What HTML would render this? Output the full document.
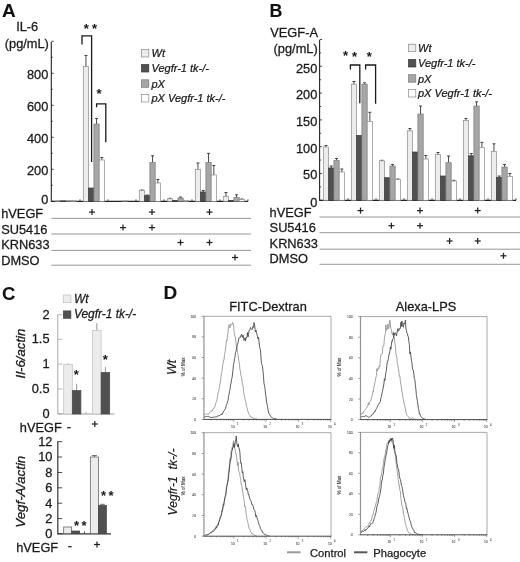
<!DOCTYPE html>
<html><head><meta charset="utf-8"><title>Figure</title>
<style>html,body{margin:0;padding:0;background:#fff;}svg{display:block;font-family:"Liberation Sans",sans-serif;}</style>
</head><body>
<svg width="520" height="562" viewBox="0 0 520 562">
<rect width="520" height="562" fill="#ffffff"/>
<text x="2" y="17" font-size="19" text-anchor="start" fill="#111" stroke="#111" stroke-width="0.08" font-weight="bold">A</text>
<text x="27.2" y="30.8" font-size="12.8" text-anchor="middle" fill="#1a1a1a" stroke="#1a1a1a" stroke-width="0.28">IL-6</text>
<text x="4.8" y="47.8" font-size="12.8" text-anchor="start" fill="#1a1a1a" stroke="#1a1a1a" stroke-width="0.28">(pg/mL)</text>
<text x="48.3" y="78.5" font-size="12.8" text-anchor="end" fill="#1a1a1a" stroke="#1a1a1a" stroke-width="0.28">800</text>
<text x="48.3" y="110.5" font-size="12.8" text-anchor="end" fill="#1a1a1a" stroke="#1a1a1a" stroke-width="0.28">600</text>
<text x="48.3" y="142.5" font-size="12.8" text-anchor="end" fill="#1a1a1a" stroke="#1a1a1a" stroke-width="0.28">400</text>
<text x="48.3" y="174.5" font-size="12.8" text-anchor="end" fill="#1a1a1a" stroke="#1a1a1a" stroke-width="0.28">200</text>
<text x="48.3" y="203.7" font-size="12.8" text-anchor="end" fill="#1a1a1a" stroke="#1a1a1a" stroke-width="0.28">0</text>
<line x1="51.3" y1="42" x2="51.3" y2="201.8" stroke="#222" stroke-width="1.1"/>
<line x1="51.3" y1="201.3" x2="248" y2="201.3" stroke="#222" stroke-width="1.3"/>
<line x1="51.3" y1="201.3" x2="53.8" y2="201.3" stroke="#222" stroke-width="0.8"/>
<line x1="51.3" y1="185.3" x2="52.8" y2="185.3" stroke="#222" stroke-width="0.8"/>
<line x1="51.3" y1="169.3" x2="53.8" y2="169.3" stroke="#222" stroke-width="0.8"/>
<line x1="51.3" y1="153.3" x2="52.8" y2="153.3" stroke="#222" stroke-width="0.8"/>
<line x1="51.3" y1="137.3" x2="53.8" y2="137.3" stroke="#222" stroke-width="0.8"/>
<line x1="51.3" y1="121.30000000000001" x2="52.8" y2="121.30000000000001" stroke="#222" stroke-width="0.8"/>
<line x1="51.3" y1="105.30000000000001" x2="53.8" y2="105.30000000000001" stroke="#222" stroke-width="0.8"/>
<line x1="51.3" y1="89.30000000000001" x2="52.8" y2="89.30000000000001" stroke="#222" stroke-width="0.8"/>
<line x1="51.3" y1="73.30000000000001" x2="53.8" y2="73.30000000000001" stroke="#222" stroke-width="0.8"/>
<line x1="51.3" y1="57.30000000000001" x2="52.8" y2="57.30000000000001" stroke="#222" stroke-width="0.8"/>
<line x1="51.3" y1="41.30000000000001" x2="53.8" y2="41.30000000000001" stroke="#222" stroke-width="0.8"/>
<line x1="80" y1="201.3" x2="80" y2="199.3" stroke="#222" stroke-width="0.8"/>
<line x1="108" y1="201.3" x2="108" y2="199.3" stroke="#222" stroke-width="0.8"/>
<line x1="136" y1="201.3" x2="136" y2="199.3" stroke="#222" stroke-width="0.8"/>
<line x1="164" y1="201.3" x2="164" y2="199.3" stroke="#222" stroke-width="0.8"/>
<line x1="192" y1="201.3" x2="192" y2="199.3" stroke="#222" stroke-width="0.8"/>
<line x1="220" y1="201.3" x2="220" y2="199.3" stroke="#222" stroke-width="0.8"/>
<line x1="248" y1="201.3" x2="248" y2="199.3" stroke="#222" stroke-width="0.8"/>
<rect x="55.30" y="200.70" width="5.30" height="0.60" fill="#ececec" stroke="#8a8a8a" stroke-width="0.7"/>
<rect x="60.60" y="200.90" width="5.30" height="0.40" fill="#505050" stroke="#3a3a3a" stroke-width="0.7"/>
<rect x="65.90" y="200.90" width="5.30" height="0.40" fill="#a6a6a6" stroke="#7a7a7a" stroke-width="0.7"/>
<rect x="71.20" y="200.70" width="5.30" height="0.60" fill="#fdfdfd" stroke="#8a8a8a" stroke-width="0.7"/>
<line x1="85.95" y1="66.5" x2="85.95" y2="55.5" stroke="#333" stroke-width="0.9"/>
<line x1="84.45" y1="55.5" x2="87.45" y2="55.5" stroke="#333" stroke-width="0.9"/>
<rect x="83.30" y="66.50" width="5.30" height="134.80" fill="#ececec" stroke="#8a8a8a" stroke-width="0.7"/>
<rect x="88.60" y="188.00" width="5.30" height="13.30" fill="#505050" stroke="#3a3a3a" stroke-width="0.7"/>
<line x1="96.55" y1="124" x2="96.55" y2="118.5" stroke="#333" stroke-width="0.9"/>
<line x1="95.05" y1="118.5" x2="98.05" y2="118.5" stroke="#333" stroke-width="0.9"/>
<rect x="93.90" y="124.00" width="5.30" height="77.30" fill="#a6a6a6" stroke="#7a7a7a" stroke-width="0.7"/>
<line x1="101.85" y1="160" x2="101.85" y2="157.5" stroke="#333" stroke-width="0.9"/>
<line x1="100.35" y1="157.5" x2="103.35" y2="157.5" stroke="#333" stroke-width="0.9"/>
<rect x="99.20" y="160.00" width="5.30" height="41.30" fill="#fdfdfd" stroke="#8a8a8a" stroke-width="0.7"/>
<rect x="121.90" y="201.00" width="5.30" height="0.30" fill="#a6a6a6" stroke="#7a7a7a" stroke-width="0.7"/>
<line x1="141.95000000000002" y1="190.5" x2="141.95000000000002" y2="190" stroke="#333" stroke-width="0.9"/>
<line x1="140.45000000000002" y1="190" x2="143.45000000000002" y2="190" stroke="#333" stroke-width="0.9"/>
<rect x="139.30" y="190.50" width="5.30" height="10.80" fill="#ececec" stroke="#8a8a8a" stroke-width="0.7"/>
<line x1="147.25000000000003" y1="195.7" x2="147.25000000000003" y2="195" stroke="#333" stroke-width="0.9"/>
<line x1="145.75000000000003" y1="195" x2="148.75000000000003" y2="195" stroke="#333" stroke-width="0.9"/>
<rect x="144.60" y="195.70" width="5.30" height="5.60" fill="#505050" stroke="#3a3a3a" stroke-width="0.7"/>
<line x1="152.55" y1="162.5" x2="152.55" y2="155.8" stroke="#333" stroke-width="0.9"/>
<line x1="151.05" y1="155.8" x2="154.05" y2="155.8" stroke="#333" stroke-width="0.9"/>
<rect x="149.90" y="162.50" width="5.30" height="38.80" fill="#a6a6a6" stroke="#7a7a7a" stroke-width="0.7"/>
<line x1="157.85000000000002" y1="183" x2="157.85000000000002" y2="179.5" stroke="#333" stroke-width="0.9"/>
<line x1="156.35000000000002" y1="179.5" x2="159.35000000000002" y2="179.5" stroke="#333" stroke-width="0.9"/>
<rect x="155.20" y="183.00" width="5.30" height="18.30" fill="#fdfdfd" stroke="#8a8a8a" stroke-width="0.7"/>
<line x1="169.95000000000002" y1="198.8" x2="169.95000000000002" y2="198.3" stroke="#333" stroke-width="0.9"/>
<line x1="168.45000000000002" y1="198.3" x2="171.45000000000002" y2="198.3" stroke="#333" stroke-width="0.9"/>
<rect x="167.30" y="198.80" width="5.30" height="2.50" fill="#ececec" stroke="#8a8a8a" stroke-width="0.7"/>
<rect x="172.60" y="200.60" width="5.30" height="0.70" fill="#505050" stroke="#3a3a3a" stroke-width="0.7"/>
<line x1="180.55" y1="198" x2="180.55" y2="197" stroke="#333" stroke-width="0.9"/>
<line x1="179.05" y1="197" x2="182.05" y2="197" stroke="#333" stroke-width="0.9"/>
<rect x="177.90" y="198.00" width="5.30" height="3.30" fill="#a6a6a6" stroke="#7a7a7a" stroke-width="0.7"/>
<rect x="183.20" y="200.30" width="5.30" height="1.00" fill="#fdfdfd" stroke="#8a8a8a" stroke-width="0.7"/>
<line x1="197.95000000000002" y1="169.5" x2="197.95000000000002" y2="163" stroke="#333" stroke-width="0.9"/>
<line x1="196.45000000000002" y1="163" x2="199.45000000000002" y2="163" stroke="#333" stroke-width="0.9"/>
<rect x="195.30" y="169.50" width="5.30" height="31.80" fill="#ececec" stroke="#8a8a8a" stroke-width="0.7"/>
<line x1="203.25000000000003" y1="192" x2="203.25000000000003" y2="190.5" stroke="#333" stroke-width="0.9"/>
<line x1="201.75000000000003" y1="190.5" x2="204.75000000000003" y2="190.5" stroke="#333" stroke-width="0.9"/>
<rect x="200.60" y="192.00" width="5.30" height="9.30" fill="#505050" stroke="#3a3a3a" stroke-width="0.7"/>
<line x1="208.55" y1="162.5" x2="208.55" y2="153.3" stroke="#333" stroke-width="0.9"/>
<line x1="207.05" y1="153.3" x2="210.05" y2="153.3" stroke="#333" stroke-width="0.9"/>
<rect x="205.90" y="162.50" width="5.30" height="38.80" fill="#a6a6a6" stroke="#7a7a7a" stroke-width="0.7"/>
<line x1="213.85000000000002" y1="175" x2="213.85000000000002" y2="165.5" stroke="#333" stroke-width="0.9"/>
<line x1="212.35000000000002" y1="165.5" x2="215.35000000000002" y2="165.5" stroke="#333" stroke-width="0.9"/>
<rect x="211.20" y="175.00" width="5.30" height="26.30" fill="#fdfdfd" stroke="#8a8a8a" stroke-width="0.7"/>
<line x1="225.95000000000002" y1="196.3" x2="225.95000000000002" y2="192.5" stroke="#333" stroke-width="0.9"/>
<line x1="224.45000000000002" y1="192.5" x2="227.45000000000002" y2="192.5" stroke="#333" stroke-width="0.9"/>
<rect x="223.30" y="196.30" width="5.30" height="5.00" fill="#ececec" stroke="#8a8a8a" stroke-width="0.7"/>
<rect x="228.60" y="200.60" width="5.30" height="0.70" fill="#505050" stroke="#3a3a3a" stroke-width="0.7"/>
<line x1="236.55" y1="197.5" x2="236.55" y2="194.8" stroke="#333" stroke-width="0.9"/>
<line x1="235.05" y1="194.8" x2="238.05" y2="194.8" stroke="#333" stroke-width="0.9"/>
<rect x="233.90" y="197.50" width="5.30" height="3.80" fill="#a6a6a6" stroke="#7a7a7a" stroke-width="0.7"/>
<line x1="241.85000000000002" y1="199.5" x2="241.85000000000002" y2="199" stroke="#333" stroke-width="0.9"/>
<line x1="240.35000000000002" y1="199" x2="243.35000000000002" y2="199" stroke="#333" stroke-width="0.9"/>
<rect x="239.20" y="199.50" width="5.30" height="1.80" fill="#fdfdfd" stroke="#8a8a8a" stroke-width="0.7"/>
<path d="M82 44.5 V35.9 H91.6 V162" fill="none" stroke="#1a1a1a" stroke-width="1.3"/>
<path d="M96.6 107.2 V103.8 H105.8 V142.3" fill="none" stroke="#1a1a1a" stroke-width="1.3"/>
<text x="86.2" y="33.4" font-size="13" text-anchor="middle" fill="#1a1a1a" stroke="#1a1a1a" stroke-width="0.07" font-weight="bold">*</text>
<text x="94.5" y="33.4" font-size="13" text-anchor="middle" fill="#1a1a1a" stroke="#1a1a1a" stroke-width="0.07" font-weight="bold">*</text>
<text x="99" y="98.3" font-size="13" text-anchor="middle" fill="#1a1a1a" stroke="#1a1a1a" stroke-width="0.07" font-weight="bold">*</text>
<rect x="141.50" y="49.50" width="7.30" height="7.50" fill="#ececec" stroke="#8a8a8a" stroke-width="0.7"/>
<text x="151.5" y="57.3" font-size="11" text-anchor="start" fill="#1a1a1a" stroke="#1a1a1a" stroke-width="0.24" font-style="italic">Wt</text>
<rect x="141.50" y="64.50" width="7.30" height="7.50" fill="#505050" stroke="#3a3a3a" stroke-width="0.7"/>
<text x="151.5" y="72.3" font-size="11" text-anchor="start" fill="#1a1a1a" stroke="#1a1a1a" stroke-width="0.24" font-style="italic">Vegfr-1 tk-/-</text>
<rect x="141.50" y="79.80" width="7.30" height="7.50" fill="#a6a6a6" stroke="#7a7a7a" stroke-width="0.7"/>
<text x="151.5" y="87.6" font-size="11" text-anchor="start" fill="#1a1a1a" stroke="#1a1a1a" stroke-width="0.24" font-style="italic">pX</text>
<rect x="141.50" y="94.50" width="7.30" height="7.50" fill="#fdfdfd" stroke="#8a8a8a" stroke-width="0.7"/>
<text x="151.5" y="102.3" font-size="11" text-anchor="start" fill="#1a1a1a" stroke="#1a1a1a" stroke-width="0.24" font-style="italic">pX Vegfr-1 tk-/-</text>
<text x="1.2" y="218.4" font-size="12.8" text-anchor="start" fill="#1a1a1a" stroke="#1a1a1a" stroke-width="0.28">hVEGF</text>
<line x1="51.5" y1="218.4" x2="251" y2="218.4" stroke="#8a8a8a" stroke-width="0.9"/>
<text x="1.2" y="233.6" font-size="12.8" text-anchor="start" fill="#1a1a1a" stroke="#1a1a1a" stroke-width="0.28">SU5416</text>
<line x1="51.5" y1="234" x2="251" y2="234" stroke="#8a8a8a" stroke-width="0.9"/>
<text x="1.2" y="248.7" font-size="12.8" text-anchor="start" fill="#1a1a1a" stroke="#1a1a1a" stroke-width="0.28">KRN633</text>
<line x1="51.5" y1="250.4" x2="251" y2="250.4" stroke="#8a8a8a" stroke-width="0.9"/>
<text x="1.2" y="264.8" font-size="12.8" text-anchor="start" fill="#1a1a1a" stroke="#1a1a1a" stroke-width="0.28">DMSO</text>
<line x1="51.5" y1="265.2" x2="251" y2="265.2" stroke="#8a8a8a" stroke-width="0.9"/>
<line x1="89" y1="212.1" x2="95" y2="212.1" stroke="#222" stroke-width="1.25"/>
<line x1="92" y1="209.1" x2="92" y2="215.1" stroke="#222" stroke-width="1.25"/>
<line x1="149" y1="212.1" x2="155" y2="212.1" stroke="#222" stroke-width="1.25"/>
<line x1="152" y1="209.1" x2="152" y2="215.1" stroke="#222" stroke-width="1.25"/>
<line x1="206.5" y1="212.1" x2="212.5" y2="212.1" stroke="#222" stroke-width="1.25"/>
<line x1="209.5" y1="209.1" x2="209.5" y2="215.1" stroke="#222" stroke-width="1.25"/>
<line x1="120" y1="227.6" x2="126" y2="227.6" stroke="#222" stroke-width="1.25"/>
<line x1="123" y1="224.6" x2="123" y2="230.6" stroke="#222" stroke-width="1.25"/>
<line x1="149" y1="227.6" x2="155" y2="227.6" stroke="#222" stroke-width="1.25"/>
<line x1="152" y1="224.6" x2="152" y2="230.6" stroke="#222" stroke-width="1.25"/>
<line x1="177.5" y1="242.5" x2="183.5" y2="242.5" stroke="#222" stroke-width="1.25"/>
<line x1="180.5" y1="239.5" x2="180.5" y2="245.5" stroke="#222" stroke-width="1.25"/>
<line x1="206.5" y1="242.5" x2="212.5" y2="242.5" stroke="#222" stroke-width="1.25"/>
<line x1="209.5" y1="239.5" x2="209.5" y2="245.5" stroke="#222" stroke-width="1.25"/>
<line x1="232" y1="257.5" x2="238" y2="257.5" stroke="#222" stroke-width="1.25"/>
<line x1="235" y1="254.5" x2="235" y2="260.5" stroke="#222" stroke-width="1.25"/>
<text x="269.6" y="17" font-size="19" text-anchor="start" fill="#111" stroke="#111" stroke-width="0.08" font-weight="bold" textLength="12.9" lengthAdjust="spacingAndGlyphs">B</text>
<text x="270.3" y="37.2" font-size="12.8" text-anchor="start" fill="#1a1a1a" stroke="#1a1a1a" stroke-width="0.28">VEGF-A</text>
<text x="273.6" y="52.6" font-size="12.8" text-anchor="start" fill="#1a1a1a" stroke="#1a1a1a" stroke-width="0.28">(pg/mL)</text>
<text x="317.3" y="72.6" font-size="12.8" text-anchor="end" fill="#1a1a1a" stroke="#1a1a1a" stroke-width="0.28">250</text>
<text x="317.3" y="99.4" font-size="12.8" text-anchor="end" fill="#1a1a1a" stroke="#1a1a1a" stroke-width="0.28">200</text>
<text x="317.3" y="126.2" font-size="12.8" text-anchor="end" fill="#1a1a1a" stroke="#1a1a1a" stroke-width="0.28">150</text>
<text x="317.3" y="152.5" font-size="12.8" text-anchor="end" fill="#1a1a1a" stroke="#1a1a1a" stroke-width="0.28">100</text>
<text x="317.3" y="179.3" font-size="12.8" text-anchor="end" fill="#1a1a1a" stroke="#1a1a1a" stroke-width="0.28">50</text>
<text x="317.3" y="206.8" font-size="12.8" text-anchor="end" fill="#1a1a1a" stroke="#1a1a1a" stroke-width="0.28">0</text>
<line x1="319.6" y1="40" x2="319.6" y2="200.8" stroke="#222" stroke-width="1.1"/>
<line x1="319.6" y1="200.3" x2="516" y2="200.3" stroke="#222" stroke-width="1.3"/>
<line x1="319.6" y1="200.3" x2="322.1" y2="200.3" stroke="#222" stroke-width="0.8"/>
<line x1="319.6" y1="186.9" x2="321.1" y2="186.9" stroke="#222" stroke-width="0.8"/>
<line x1="319.6" y1="173.5" x2="322.1" y2="173.5" stroke="#222" stroke-width="0.8"/>
<line x1="319.6" y1="160.10000000000002" x2="321.1" y2="160.10000000000002" stroke="#222" stroke-width="0.8"/>
<line x1="319.6" y1="146.70000000000002" x2="322.1" y2="146.70000000000002" stroke="#222" stroke-width="0.8"/>
<line x1="319.6" y1="133.3" x2="321.1" y2="133.3" stroke="#222" stroke-width="0.8"/>
<line x1="319.6" y1="119.9" x2="322.1" y2="119.9" stroke="#222" stroke-width="0.8"/>
<line x1="319.6" y1="106.50000000000001" x2="321.1" y2="106.50000000000001" stroke="#222" stroke-width="0.8"/>
<line x1="319.6" y1="93.10000000000001" x2="322.1" y2="93.10000000000001" stroke="#222" stroke-width="0.8"/>
<line x1="319.6" y1="79.7" x2="321.1" y2="79.7" stroke="#222" stroke-width="0.8"/>
<line x1="319.6" y1="66.30000000000001" x2="322.1" y2="66.30000000000001" stroke="#222" stroke-width="0.8"/>
<line x1="319.6" y1="52.900000000000006" x2="321.1" y2="52.900000000000006" stroke="#222" stroke-width="0.8"/>
<line x1="319.6" y1="39.5" x2="322.1" y2="39.5" stroke="#222" stroke-width="0.8"/>
<line x1="348" y1="200.3" x2="348" y2="198.3" stroke="#222" stroke-width="0.8"/>
<line x1="376" y1="200.3" x2="376" y2="198.3" stroke="#222" stroke-width="0.8"/>
<line x1="404" y1="200.3" x2="404" y2="198.3" stroke="#222" stroke-width="0.8"/>
<line x1="432" y1="200.3" x2="432" y2="198.3" stroke="#222" stroke-width="0.8"/>
<line x1="460" y1="200.3" x2="460" y2="198.3" stroke="#222" stroke-width="0.8"/>
<line x1="488" y1="200.3" x2="488" y2="198.3" stroke="#222" stroke-width="0.8"/>
<line x1="516" y1="200.3" x2="516" y2="198.3" stroke="#222" stroke-width="0.8"/>
<line x1="325.95" y1="147" x2="325.95" y2="145.5" stroke="#333" stroke-width="0.9"/>
<line x1="324.45" y1="145.5" x2="327.45" y2="145.5" stroke="#333" stroke-width="0.9"/>
<rect x="323.30" y="147.00" width="5.30" height="53.30" fill="#ececec" stroke="#8a8a8a" stroke-width="0.7"/>
<line x1="331.25" y1="168" x2="331.25" y2="166" stroke="#333" stroke-width="0.9"/>
<line x1="329.75" y1="166" x2="332.75" y2="166" stroke="#333" stroke-width="0.9"/>
<rect x="328.60" y="168.00" width="5.30" height="32.30" fill="#505050" stroke="#3a3a3a" stroke-width="0.7"/>
<line x1="336.55" y1="160.5" x2="336.55" y2="158.5" stroke="#333" stroke-width="0.9"/>
<line x1="335.05" y1="158.5" x2="338.05" y2="158.5" stroke="#333" stroke-width="0.9"/>
<rect x="333.90" y="160.50" width="5.30" height="39.80" fill="#a6a6a6" stroke="#7a7a7a" stroke-width="0.7"/>
<line x1="341.84999999999997" y1="172" x2="341.84999999999997" y2="169" stroke="#333" stroke-width="0.9"/>
<line x1="340.34999999999997" y1="169" x2="343.34999999999997" y2="169" stroke="#333" stroke-width="0.9"/>
<rect x="339.20" y="172.00" width="5.30" height="28.30" fill="#fdfdfd" stroke="#8a8a8a" stroke-width="0.7"/>
<line x1="353.95" y1="84.2" x2="353.95" y2="81.5" stroke="#333" stroke-width="0.9"/>
<line x1="352.45" y1="81.5" x2="355.45" y2="81.5" stroke="#333" stroke-width="0.9"/>
<rect x="351.30" y="84.20" width="5.30" height="116.10" fill="#ececec" stroke="#8a8a8a" stroke-width="0.7"/>
<rect x="356.60" y="135.40" width="5.30" height="64.90" fill="#505050" stroke="#3a3a3a" stroke-width="0.7"/>
<line x1="364.55" y1="84.2" x2="364.55" y2="82.8" stroke="#333" stroke-width="0.9"/>
<line x1="363.05" y1="82.8" x2="366.05" y2="82.8" stroke="#333" stroke-width="0.9"/>
<rect x="361.90" y="84.20" width="5.30" height="116.10" fill="#a6a6a6" stroke="#7a7a7a" stroke-width="0.7"/>
<line x1="369.84999999999997" y1="121.5" x2="369.84999999999997" y2="112.3" stroke="#333" stroke-width="0.9"/>
<line x1="368.34999999999997" y1="112.3" x2="371.34999999999997" y2="112.3" stroke="#333" stroke-width="0.9"/>
<rect x="367.20" y="121.50" width="5.30" height="78.80" fill="#fdfdfd" stroke="#8a8a8a" stroke-width="0.7"/>
<line x1="381.95" y1="160.8" x2="381.95" y2="160.3" stroke="#333" stroke-width="0.9"/>
<line x1="380.45" y1="160.3" x2="383.45" y2="160.3" stroke="#333" stroke-width="0.9"/>
<rect x="379.30" y="160.80" width="5.30" height="39.50" fill="#ececec" stroke="#8a8a8a" stroke-width="0.7"/>
<rect x="384.60" y="177.70" width="5.30" height="22.60" fill="#505050" stroke="#3a3a3a" stroke-width="0.7"/>
<line x1="392.55" y1="166" x2="392.55" y2="164.5" stroke="#333" stroke-width="0.9"/>
<line x1="391.05" y1="164.5" x2="394.05" y2="164.5" stroke="#333" stroke-width="0.9"/>
<rect x="389.90" y="166.00" width="5.30" height="34.30" fill="#a6a6a6" stroke="#7a7a7a" stroke-width="0.7"/>
<line x1="397.84999999999997" y1="179.6" x2="397.84999999999997" y2="179" stroke="#333" stroke-width="0.9"/>
<line x1="396.34999999999997" y1="179" x2="399.34999999999997" y2="179" stroke="#333" stroke-width="0.9"/>
<rect x="395.20" y="179.60" width="5.30" height="20.70" fill="#fdfdfd" stroke="#8a8a8a" stroke-width="0.7"/>
<line x1="409.95" y1="130.8" x2="409.95" y2="128.5" stroke="#333" stroke-width="0.9"/>
<line x1="408.45" y1="128.5" x2="411.45" y2="128.5" stroke="#333" stroke-width="0.9"/>
<rect x="407.30" y="130.80" width="5.30" height="69.50" fill="#ececec" stroke="#8a8a8a" stroke-width="0.7"/>
<rect x="412.60" y="152.00" width="5.30" height="48.30" fill="#505050" stroke="#3a3a3a" stroke-width="0.7"/>
<line x1="420.55" y1="114" x2="420.55" y2="106" stroke="#333" stroke-width="0.9"/>
<line x1="419.05" y1="106" x2="422.05" y2="106" stroke="#333" stroke-width="0.9"/>
<rect x="417.90" y="114.00" width="5.30" height="86.30" fill="#a6a6a6" stroke="#7a7a7a" stroke-width="0.7"/>
<line x1="425.84999999999997" y1="159" x2="425.84999999999997" y2="155.5" stroke="#333" stroke-width="0.9"/>
<line x1="424.34999999999997" y1="155.5" x2="427.34999999999997" y2="155.5" stroke="#333" stroke-width="0.9"/>
<rect x="423.20" y="159.00" width="5.30" height="41.30" fill="#fdfdfd" stroke="#8a8a8a" stroke-width="0.7"/>
<line x1="437.95" y1="154.6" x2="437.95" y2="152.5" stroke="#333" stroke-width="0.9"/>
<line x1="436.45" y1="152.5" x2="439.45" y2="152.5" stroke="#333" stroke-width="0.9"/>
<rect x="435.30" y="154.60" width="5.30" height="45.70" fill="#ececec" stroke="#8a8a8a" stroke-width="0.7"/>
<rect x="440.60" y="176.00" width="5.30" height="24.30" fill="#505050" stroke="#3a3a3a" stroke-width="0.7"/>
<line x1="448.55" y1="162.7" x2="448.55" y2="156" stroke="#333" stroke-width="0.9"/>
<line x1="447.05" y1="156" x2="450.05" y2="156" stroke="#333" stroke-width="0.9"/>
<rect x="445.90" y="162.70" width="5.30" height="37.60" fill="#a6a6a6" stroke="#7a7a7a" stroke-width="0.7"/>
<line x1="453.84999999999997" y1="181" x2="453.84999999999997" y2="180.3" stroke="#333" stroke-width="0.9"/>
<line x1="452.34999999999997" y1="180.3" x2="455.34999999999997" y2="180.3" stroke="#333" stroke-width="0.9"/>
<rect x="451.20" y="181.00" width="5.30" height="19.30" fill="#fdfdfd" stroke="#8a8a8a" stroke-width="0.7"/>
<line x1="465.95" y1="120.4" x2="465.95" y2="118.5" stroke="#333" stroke-width="0.9"/>
<line x1="464.45" y1="118.5" x2="467.45" y2="118.5" stroke="#333" stroke-width="0.9"/>
<rect x="463.30" y="120.40" width="5.30" height="79.90" fill="#ececec" stroke="#8a8a8a" stroke-width="0.7"/>
<line x1="471.25" y1="155.8" x2="471.25" y2="153.5" stroke="#333" stroke-width="0.9"/>
<line x1="469.75" y1="153.5" x2="472.75" y2="153.5" stroke="#333" stroke-width="0.9"/>
<rect x="468.60" y="155.80" width="5.30" height="44.50" fill="#505050" stroke="#3a3a3a" stroke-width="0.7"/>
<line x1="476.55" y1="106" x2="476.55" y2="101.8" stroke="#333" stroke-width="0.9"/>
<line x1="475.05" y1="101.8" x2="478.05" y2="101.8" stroke="#333" stroke-width="0.9"/>
<rect x="473.90" y="106.00" width="5.30" height="94.30" fill="#a6a6a6" stroke="#7a7a7a" stroke-width="0.7"/>
<line x1="481.84999999999997" y1="147.7" x2="481.84999999999997" y2="142.3" stroke="#333" stroke-width="0.9"/>
<line x1="480.34999999999997" y1="142.3" x2="483.34999999999997" y2="142.3" stroke="#333" stroke-width="0.9"/>
<rect x="479.20" y="147.70" width="5.30" height="52.60" fill="#fdfdfd" stroke="#8a8a8a" stroke-width="0.7"/>
<line x1="493.95" y1="151.5" x2="493.95" y2="143.8" stroke="#333" stroke-width="0.9"/>
<line x1="492.45" y1="143.8" x2="495.45" y2="143.8" stroke="#333" stroke-width="0.9"/>
<rect x="491.30" y="151.50" width="5.30" height="48.80" fill="#ececec" stroke="#8a8a8a" stroke-width="0.7"/>
<line x1="499.25" y1="177.3" x2="499.25" y2="176" stroke="#333" stroke-width="0.9"/>
<line x1="497.75" y1="176" x2="500.75" y2="176" stroke="#333" stroke-width="0.9"/>
<rect x="496.60" y="177.30" width="5.30" height="23.00" fill="#505050" stroke="#3a3a3a" stroke-width="0.7"/>
<line x1="504.55" y1="167" x2="504.55" y2="164.5" stroke="#333" stroke-width="0.9"/>
<line x1="503.05" y1="164.5" x2="506.05" y2="164.5" stroke="#333" stroke-width="0.9"/>
<rect x="501.90" y="167.00" width="5.30" height="33.30" fill="#a6a6a6" stroke="#7a7a7a" stroke-width="0.7"/>
<line x1="509.84999999999997" y1="176.5" x2="509.84999999999997" y2="173.5" stroke="#333" stroke-width="0.9"/>
<line x1="508.34999999999997" y1="173.5" x2="511.34999999999997" y2="173.5" stroke="#333" stroke-width="0.9"/>
<rect x="507.20" y="176.50" width="5.30" height="23.80" fill="#fdfdfd" stroke="#8a8a8a" stroke-width="0.7"/>
<path d="M350.4 69.5 V65 H359.8 V103.3" fill="none" stroke="#1a1a1a" stroke-width="1.3"/>
<path d="M365.6 69.5 V65 H375.6 V103.8" fill="none" stroke="#1a1a1a" stroke-width="1.3"/>
<text x="345.5" y="60.4" font-size="13" text-anchor="middle" fill="#1a1a1a" stroke="#1a1a1a" stroke-width="0.07" font-weight="bold">*</text>
<text x="354.5" y="61.4" font-size="13" text-anchor="middle" fill="#1a1a1a" stroke="#1a1a1a" stroke-width="0.07" font-weight="bold">*</text>
<text x="369.4" y="61.2" font-size="13" text-anchor="middle" fill="#1a1a1a" stroke="#1a1a1a" stroke-width="0.07" font-weight="bold">*</text>
<rect x="408.50" y="44.20" width="7.30" height="7.50" fill="#ececec" stroke="#8a8a8a" stroke-width="0.7"/>
<text x="418" y="52.0" font-size="11" text-anchor="start" fill="#1a1a1a" stroke="#1a1a1a" stroke-width="0.24" font-style="italic">Wt</text>
<rect x="408.50" y="59.50" width="7.30" height="7.50" fill="#505050" stroke="#3a3a3a" stroke-width="0.7"/>
<text x="418" y="67.3" font-size="11" text-anchor="start" fill="#1a1a1a" stroke="#1a1a1a" stroke-width="0.24" font-style="italic">Vegfr-1 tk-/-</text>
<rect x="408.50" y="74.70" width="7.30" height="7.50" fill="#a6a6a6" stroke="#7a7a7a" stroke-width="0.7"/>
<text x="418" y="82.5" font-size="11" text-anchor="start" fill="#1a1a1a" stroke="#1a1a1a" stroke-width="0.24" font-style="italic">pX</text>
<rect x="408.50" y="89.50" width="7.30" height="7.50" fill="#fdfdfd" stroke="#8a8a8a" stroke-width="0.7"/>
<text x="418" y="97.3" font-size="11" text-anchor="start" fill="#1a1a1a" stroke="#1a1a1a" stroke-width="0.24" font-style="italic">pX Vegfr-1 tk-/-</text>
<text x="269.6" y="217.2" font-size="12.8" text-anchor="start" fill="#1a1a1a" stroke="#1a1a1a" stroke-width="0.28">hVEGF</text>
<line x1="319.5" y1="217" x2="520" y2="217" stroke="#8a8a8a" stroke-width="0.9"/>
<text x="269.6" y="232.4" font-size="12.8" text-anchor="start" fill="#1a1a1a" stroke="#1a1a1a" stroke-width="0.28">SU5416</text>
<line x1="319.5" y1="232.7" x2="520" y2="232.7" stroke="#8a8a8a" stroke-width="0.9"/>
<text x="269.6" y="247.8" font-size="12.8" text-anchor="start" fill="#1a1a1a" stroke="#1a1a1a" stroke-width="0.28">KRN633</text>
<line x1="319.5" y1="249.2" x2="520" y2="249.2" stroke="#8a8a8a" stroke-width="0.9"/>
<text x="269.6" y="263" font-size="12.8" text-anchor="start" fill="#1a1a1a" stroke="#1a1a1a" stroke-width="0.28">DMSO</text>
<line x1="319.5" y1="264.3" x2="520" y2="264.3" stroke="#8a8a8a" stroke-width="0.9"/>
<line x1="357.5" y1="210.6" x2="363.5" y2="210.6" stroke="#222" stroke-width="1.25"/>
<line x1="360.5" y1="207.6" x2="360.5" y2="213.6" stroke="#222" stroke-width="1.25"/>
<line x1="417" y1="210.6" x2="423" y2="210.6" stroke="#222" stroke-width="1.25"/>
<line x1="420" y1="207.6" x2="420" y2="213.6" stroke="#222" stroke-width="1.25"/>
<line x1="474.7" y1="210.6" x2="480.7" y2="210.6" stroke="#222" stroke-width="1.25"/>
<line x1="477.7" y1="207.6" x2="477.7" y2="213.6" stroke="#222" stroke-width="1.25"/>
<line x1="388.4" y1="225.7" x2="394.4" y2="225.7" stroke="#222" stroke-width="1.25"/>
<line x1="391.4" y1="222.7" x2="391.4" y2="228.7" stroke="#222" stroke-width="1.25"/>
<line x1="417" y1="225.7" x2="423" y2="225.7" stroke="#222" stroke-width="1.25"/>
<line x1="420" y1="222.7" x2="420" y2="228.7" stroke="#222" stroke-width="1.25"/>
<line x1="446.6" y1="241" x2="452.6" y2="241" stroke="#222" stroke-width="1.25"/>
<line x1="449.6" y1="238" x2="449.6" y2="244" stroke="#222" stroke-width="1.25"/>
<line x1="474.7" y1="241" x2="480.7" y2="241" stroke="#222" stroke-width="1.25"/>
<line x1="477.7" y1="238" x2="477.7" y2="244" stroke="#222" stroke-width="1.25"/>
<line x1="500.5" y1="255.8" x2="506.5" y2="255.8" stroke="#222" stroke-width="1.25"/>
<line x1="503.5" y1="252.8" x2="503.5" y2="258.8" stroke="#222" stroke-width="1.25"/>
<text x="2" y="299.5" font-size="18.5" text-anchor="start" fill="#111" stroke="#111" stroke-width="0.07" font-weight="bold">C</text>
<rect x="63.30" y="295.00" width="7.60" height="7.60" fill="#ececec" stroke="#c4c4c4" stroke-width="0.8"/>
<text x="74" y="303" font-size="11.9" text-anchor="start" fill="#1a1a1a" stroke="#1a1a1a" stroke-width="0.26" font-style="italic">Wt</text>
<rect x="63.30" y="310.90" width="7.60" height="7.40" fill="#505050" stroke="#3a3a3a" stroke-width="0.6"/>
<text x="74" y="318" font-size="11.9" text-anchor="start" fill="#1a1a1a" stroke="#1a1a1a" stroke-width="0.26" font-style="italic">Vegfr-1 tk-/-</text>
<text x="49.5" y="318.7" font-size="12.8" text-anchor="end" fill="#1a1a1a" stroke="#1a1a1a" stroke-width="0.28">2</text>
<line x1="57.8" y1="314.7" x2="62.4" y2="314.7" stroke="#a5a5a5" stroke-width="0.8"/>
<text x="49.5" y="343.3" font-size="12.8" text-anchor="end" fill="#1a1a1a" stroke="#1a1a1a" stroke-width="0.28">1.5</text>
<line x1="57.8" y1="339.3" x2="62.4" y2="339.3" stroke="#a5a5a5" stroke-width="0.8"/>
<text x="49.5" y="368.1" font-size="12.8" text-anchor="end" fill="#1a1a1a" stroke="#1a1a1a" stroke-width="0.28">1</text>
<line x1="57.8" y1="364.1" x2="62.4" y2="364.1" stroke="#a5a5a5" stroke-width="0.8"/>
<text x="49.5" y="393.0" font-size="12.8" text-anchor="end" fill="#1a1a1a" stroke="#1a1a1a" stroke-width="0.28">0.5</text>
<line x1="57.8" y1="389" x2="62.4" y2="389" stroke="#a5a5a5" stroke-width="0.8"/>
<text x="49.5" y="417.7" font-size="12.8" text-anchor="end" fill="#1a1a1a" stroke="#1a1a1a" stroke-width="0.28">0</text>
<line x1="57.8" y1="413.7" x2="62.4" y2="413.7" stroke="#a5a5a5" stroke-width="0.8"/>
<line x1="57.8" y1="314.3" x2="57.8" y2="414" stroke="#a8a8a8" stroke-width="1"/>
<line x1="57.8" y1="414" x2="114.5" y2="414" stroke="#a0a0a0" stroke-width="1"/>
<line x1="86" y1="414" x2="86" y2="412" stroke="#999" stroke-width="0.8"/>
<line x1="68.0" y1="364.5" x2="68.0" y2="363.3" stroke="#8a8a8a" stroke-width="0.9"/>
<rect x="63.70" y="364.50" width="8.60" height="49.50" fill="#ececec" stroke="#c0c0c0" stroke-width="0.7"/>
<line x1="76.6" y1="390.6" x2="76.6" y2="383.8" stroke="#8a8a8a" stroke-width="0.9"/>
<rect x="72.30" y="390.60" width="8.60" height="23.40" fill="#505050" stroke="#484848" stroke-width="0.7"/>
<line x1="96.8" y1="330.6" x2="96.8" y2="323" stroke="#8a8a8a" stroke-width="0.9"/>
<rect x="92.50" y="330.60" width="8.60" height="83.40" fill="#ececec" stroke="#c0c0c0" stroke-width="0.7"/>
<line x1="105.39999999999999" y1="372.5" x2="105.39999999999999" y2="367" stroke="#8a8a8a" stroke-width="0.9"/>
<rect x="101.10" y="372.50" width="8.60" height="41.50" fill="#505050" stroke="#484848" stroke-width="0.7"/>
<text x="76.3" y="379.4" font-size="13" text-anchor="middle" fill="#1a1a1a" stroke="#1a1a1a" stroke-width="0.07" font-weight="bold">*</text>
<text x="105.2" y="363.6" font-size="13" text-anchor="middle" fill="#1a1a1a" stroke="#1a1a1a" stroke-width="0.07" font-weight="bold">*</text>
<text x="25.4" y="353.6" font-size="13.2" text-anchor="middle" fill="#1a1a1a" stroke="#1a1a1a" stroke-width="0.29" font-style="italic" transform="rotate(-90 25.4 353.6)">Il-6/actin</text>
<text x="19.8" y="432" font-size="12.8" text-anchor="start" fill="#1a1a1a" stroke="#1a1a1a" stroke-width="0.28">hVEGF</text>
<text x="69" y="430.5" font-size="12.8" text-anchor="middle" fill="#1a1a1a" stroke="#1a1a1a" stroke-width="0.28">-</text>
<line x1="91.8" y1="424" x2="97.8" y2="424" stroke="#222" stroke-width="1.25"/>
<line x1="94.8" y1="421" x2="94.8" y2="427" stroke="#222" stroke-width="1.25"/>
<text x="52.4" y="446.09999999999997" font-size="12.8" text-anchor="end" fill="#1a1a1a" stroke="#1a1a1a" stroke-width="0.28">12</text>
<line x1="57.8" y1="441.7" x2="62.199999999999996" y2="441.7" stroke="#3a3a3a" stroke-width="0.9"/>
<text x="52.4" y="461.4" font-size="12.8" text-anchor="end" fill="#1a1a1a" stroke="#1a1a1a" stroke-width="0.28">10</text>
<line x1="57.8" y1="457" x2="62.199999999999996" y2="457" stroke="#3a3a3a" stroke-width="0.9"/>
<text x="52.4" y="476.9" font-size="12.8" text-anchor="end" fill="#1a1a1a" stroke="#1a1a1a" stroke-width="0.28">8</text>
<line x1="57.8" y1="472.5" x2="62.199999999999996" y2="472.5" stroke="#3a3a3a" stroke-width="0.9"/>
<text x="52.4" y="492.2" font-size="12.8" text-anchor="end" fill="#1a1a1a" stroke="#1a1a1a" stroke-width="0.28">6</text>
<line x1="57.8" y1="487.8" x2="62.199999999999996" y2="487.8" stroke="#3a3a3a" stroke-width="0.9"/>
<text x="52.4" y="507.59999999999997" font-size="12.8" text-anchor="end" fill="#1a1a1a" stroke="#1a1a1a" stroke-width="0.28">4</text>
<line x1="57.8" y1="503.2" x2="62.199999999999996" y2="503.2" stroke="#3a3a3a" stroke-width="0.9"/>
<text x="52.4" y="523.0" font-size="12.8" text-anchor="end" fill="#1a1a1a" stroke="#1a1a1a" stroke-width="0.28">2</text>
<line x1="57.8" y1="518.6" x2="62.199999999999996" y2="518.6" stroke="#3a3a3a" stroke-width="0.9"/>
<text x="52.4" y="538.1" font-size="12.8" text-anchor="end" fill="#1a1a1a" stroke="#1a1a1a" stroke-width="0.28">0</text>
<line x1="57.8" y1="533.7" x2="62.199999999999996" y2="533.7" stroke="#3a3a3a" stroke-width="0.9"/>
<line x1="57.8" y1="441.2" x2="57.8" y2="534.4" stroke="#333" stroke-width="1.2"/>
<line x1="57.8" y1="533.9" x2="111" y2="533.9" stroke="#333" stroke-width="1.2"/>
<line x1="84.5" y1="533.7" x2="84.5" y2="531.5" stroke="#333" stroke-width="0.9"/>
<rect x="63.70" y="527.00" width="8.00" height="6.70" fill="#ececec" stroke="#555" stroke-width="0.7"/>
<rect x="71.70" y="531.00" width="8.00" height="2.70" fill="#505050" stroke="#484848" stroke-width="0.7"/>
<line x1="94.35" y1="457" x2="94.35" y2="455.5" stroke="#555" stroke-width="0.9"/>
<line x1="91.85" y1="455.5" x2="96.85" y2="455.5" stroke="#555" stroke-width="0.8"/>
<rect x="90.30" y="457.00" width="8.10" height="76.70" fill="#ececec" stroke="#555" stroke-width="0.7"/>
<line x1="102.4" y1="505.4" x2="102.4" y2="504.3" stroke="#555" stroke-width="0.9"/>
<line x1="99.9" y1="504.3" x2="104.9" y2="504.3" stroke="#555" stroke-width="0.8"/>
<rect x="98.40" y="505.40" width="8.00" height="28.30" fill="#505050" stroke="#484848" stroke-width="0.7"/>
<text x="76.5" y="529.7" font-size="13" text-anchor="middle" fill="#1a1a1a" stroke="#1a1a1a" stroke-width="0.07" font-weight="bold">*</text>
<text x="84" y="529.7" font-size="13" text-anchor="middle" fill="#1a1a1a" stroke="#1a1a1a" stroke-width="0.07" font-weight="bold">*</text>
<text x="103.5" y="499.5" font-size="13" text-anchor="middle" fill="#1a1a1a" stroke="#1a1a1a" stroke-width="0.07" font-weight="bold">*</text>
<text x="111" y="499.5" font-size="13" text-anchor="middle" fill="#1a1a1a" stroke="#1a1a1a" stroke-width="0.07" font-weight="bold">*</text>
<text x="25.3" y="491.7" font-size="13.3" text-anchor="middle" fill="#1a1a1a" stroke="#1a1a1a" stroke-width="0.29" font-style="italic" transform="rotate(-90 25.3 491.7)">Vegf-A/actin</text>
<text x="16.2" y="551.5" font-size="12.8" text-anchor="start" fill="#1a1a1a" stroke="#1a1a1a" stroke-width="0.28">hVEGF</text>
<text x="70" y="550" font-size="12.8" text-anchor="middle" fill="#1a1a1a" stroke="#1a1a1a" stroke-width="0.28">-</text>
<line x1="94" y1="544.5" x2="100" y2="544.5" stroke="#222" stroke-width="1.25"/>
<line x1="97" y1="541.5" x2="97" y2="547.5" stroke="#222" stroke-width="1.25"/>
<text x="163.5" y="299.3" font-size="19" text-anchor="start" fill="#111" stroke="#111" stroke-width="0.08" font-weight="bold">D</text>
<text x="268" y="311.4" font-size="12.8" text-anchor="middle" fill="#1a1a1a" stroke="#1a1a1a" stroke-width="0.28">FITC-Dextran</text>
<text x="426" y="310.6" font-size="12.8" text-anchor="middle" fill="#1a1a1a" stroke="#1a1a1a" stroke-width="0.28">Alexa-LPS</text>
<text x="175.8" y="367.3" font-size="12.3" text-anchor="middle" fill="#1a1a1a" stroke="#1a1a1a" stroke-width="0.16" font-style="italic" transform="rotate(-90 175.8 367.3)">Wt</text>
<text x="177" y="482" font-size="12.2" text-anchor="middle" fill="#1a1a1a" stroke="#1a1a1a" stroke-width="0.16" font-style="italic" transform="rotate(-90 177 482)">Vegfr-1&#160;&#160;tk-/-</text>
<path d="M204 316.3 H331 V419.4" fill="none" stroke="#a0a0a0" stroke-width="0.9"/>
<line x1="204" y1="315.90000000000003" x2="204" y2="419.4" stroke="#8a8a8a" stroke-width="1.0"/>
<line x1="201.6" y1="316.3" x2="204" y2="316.3" stroke="#787878" stroke-width="0.7"/>
<text x="196" y="317.8" font-size="3.3" text-anchor="end" fill="#4a4a4a" stroke="#4a4a4a" stroke-width="0.07">100</text>
<line x1="201.6" y1="336.92" x2="204" y2="336.92" stroke="#787878" stroke-width="0.7"/>
<text x="196" y="338.42" font-size="3.3" text-anchor="end" fill="#4a4a4a" stroke="#4a4a4a" stroke-width="0.07">80</text>
<line x1="201.6" y1="357.54" x2="204" y2="357.54" stroke="#787878" stroke-width="0.7"/>
<text x="196" y="359.04" font-size="3.3" text-anchor="end" fill="#4a4a4a" stroke="#4a4a4a" stroke-width="0.07">60</text>
<line x1="201.6" y1="378.15999999999997" x2="204" y2="378.15999999999997" stroke="#787878" stroke-width="0.7"/>
<text x="196" y="379.65999999999997" font-size="3.3" text-anchor="end" fill="#4a4a4a" stroke="#4a4a4a" stroke-width="0.07">40</text>
<line x1="201.6" y1="398.78" x2="204" y2="398.78" stroke="#787878" stroke-width="0.7"/>
<text x="196" y="400.28" font-size="3.3" text-anchor="end" fill="#4a4a4a" stroke="#4a4a4a" stroke-width="0.07">20</text>
<line x1="201.6" y1="419.4" x2="204" y2="419.4" stroke="#787878" stroke-width="0.7"/>
<text x="196" y="420.9" font-size="3.3" text-anchor="end" fill="#4a4a4a" stroke="#4a4a4a" stroke-width="0.07">0</text>
<line x1="202.9" y1="316.3" x2="204" y2="316.3" stroke="#909090" stroke-width="0.5"/>
<line x1="202.9" y1="318.362" x2="204" y2="318.362" stroke="#909090" stroke-width="0.5"/>
<line x1="202.9" y1="320.42400000000004" x2="204" y2="320.42400000000004" stroke="#909090" stroke-width="0.5"/>
<line x1="202.9" y1="322.486" x2="204" y2="322.486" stroke="#909090" stroke-width="0.5"/>
<line x1="202.9" y1="324.548" x2="204" y2="324.548" stroke="#909090" stroke-width="0.5"/>
<line x1="202.9" y1="326.61" x2="204" y2="326.61" stroke="#909090" stroke-width="0.5"/>
<line x1="202.9" y1="328.672" x2="204" y2="328.672" stroke="#909090" stroke-width="0.5"/>
<line x1="202.9" y1="330.734" x2="204" y2="330.734" stroke="#909090" stroke-width="0.5"/>
<line x1="202.9" y1="332.796" x2="204" y2="332.796" stroke="#909090" stroke-width="0.5"/>
<line x1="202.9" y1="334.858" x2="204" y2="334.858" stroke="#909090" stroke-width="0.5"/>
<line x1="202.9" y1="336.92" x2="204" y2="336.92" stroke="#909090" stroke-width="0.5"/>
<line x1="202.9" y1="338.982" x2="204" y2="338.982" stroke="#909090" stroke-width="0.5"/>
<line x1="202.9" y1="341.044" x2="204" y2="341.044" stroke="#909090" stroke-width="0.5"/>
<line x1="202.9" y1="343.106" x2="204" y2="343.106" stroke="#909090" stroke-width="0.5"/>
<line x1="202.9" y1="345.168" x2="204" y2="345.168" stroke="#909090" stroke-width="0.5"/>
<line x1="202.9" y1="347.23" x2="204" y2="347.23" stroke="#909090" stroke-width="0.5"/>
<line x1="202.9" y1="349.29200000000003" x2="204" y2="349.29200000000003" stroke="#909090" stroke-width="0.5"/>
<line x1="202.9" y1="351.354" x2="204" y2="351.354" stroke="#909090" stroke-width="0.5"/>
<line x1="202.9" y1="353.416" x2="204" y2="353.416" stroke="#909090" stroke-width="0.5"/>
<line x1="202.9" y1="355.478" x2="204" y2="355.478" stroke="#909090" stroke-width="0.5"/>
<line x1="202.9" y1="357.53999999999996" x2="204" y2="357.53999999999996" stroke="#909090" stroke-width="0.5"/>
<line x1="202.9" y1="359.602" x2="204" y2="359.602" stroke="#909090" stroke-width="0.5"/>
<line x1="202.9" y1="361.664" x2="204" y2="361.664" stroke="#909090" stroke-width="0.5"/>
<line x1="202.9" y1="363.726" x2="204" y2="363.726" stroke="#909090" stroke-width="0.5"/>
<line x1="202.9" y1="365.788" x2="204" y2="365.788" stroke="#909090" stroke-width="0.5"/>
<line x1="202.9" y1="367.85" x2="204" y2="367.85" stroke="#909090" stroke-width="0.5"/>
<line x1="202.9" y1="369.912" x2="204" y2="369.912" stroke="#909090" stroke-width="0.5"/>
<line x1="202.9" y1="371.974" x2="204" y2="371.974" stroke="#909090" stroke-width="0.5"/>
<line x1="202.9" y1="374.036" x2="204" y2="374.036" stroke="#909090" stroke-width="0.5"/>
<line x1="202.9" y1="376.098" x2="204" y2="376.098" stroke="#909090" stroke-width="0.5"/>
<line x1="202.9" y1="378.15999999999997" x2="204" y2="378.15999999999997" stroke="#909090" stroke-width="0.5"/>
<line x1="202.9" y1="380.222" x2="204" y2="380.222" stroke="#909090" stroke-width="0.5"/>
<line x1="202.9" y1="382.284" x2="204" y2="382.284" stroke="#909090" stroke-width="0.5"/>
<line x1="202.9" y1="384.346" x2="204" y2="384.346" stroke="#909090" stroke-width="0.5"/>
<line x1="202.9" y1="386.408" x2="204" y2="386.408" stroke="#909090" stroke-width="0.5"/>
<line x1="202.9" y1="388.46999999999997" x2="204" y2="388.46999999999997" stroke="#909090" stroke-width="0.5"/>
<line x1="202.9" y1="390.532" x2="204" y2="390.532" stroke="#909090" stroke-width="0.5"/>
<line x1="202.9" y1="392.594" x2="204" y2="392.594" stroke="#909090" stroke-width="0.5"/>
<line x1="202.9" y1="394.656" x2="204" y2="394.656" stroke="#909090" stroke-width="0.5"/>
<line x1="202.9" y1="396.71799999999996" x2="204" y2="396.71799999999996" stroke="#909090" stroke-width="0.5"/>
<line x1="202.9" y1="398.78" x2="204" y2="398.78" stroke="#909090" stroke-width="0.5"/>
<line x1="202.9" y1="400.842" x2="204" y2="400.842" stroke="#909090" stroke-width="0.5"/>
<line x1="202.9" y1="402.904" x2="204" y2="402.904" stroke="#909090" stroke-width="0.5"/>
<line x1="202.9" y1="404.966" x2="204" y2="404.966" stroke="#909090" stroke-width="0.5"/>
<line x1="202.9" y1="407.028" x2="204" y2="407.028" stroke="#909090" stroke-width="0.5"/>
<line x1="202.9" y1="409.09" x2="204" y2="409.09" stroke="#909090" stroke-width="0.5"/>
<line x1="202.9" y1="411.152" x2="204" y2="411.152" stroke="#909090" stroke-width="0.5"/>
<line x1="202.9" y1="413.21399999999994" x2="204" y2="413.21399999999994" stroke="#909090" stroke-width="0.5"/>
<line x1="202.9" y1="415.27599999999995" x2="204" y2="415.27599999999995" stroke="#909090" stroke-width="0.5"/>
<line x1="202.9" y1="417.33799999999997" x2="204" y2="417.33799999999997" stroke="#909090" stroke-width="0.5"/>
<line x1="211.14400521699653" y1="419.4" x2="211.14400521699653" y2="420.59999999999997" stroke="#555" stroke-width="0.55"/>
<line x1="216.83552626861766" y1="419.4" x2="216.83552626861766" y2="420.59999999999997" stroke="#555" stroke-width="0.55"/>
<line x1="220.87372471970735" y1="419.4" x2="220.87372471970735" y2="420.59999999999997" stroke="#555" stroke-width="0.55"/>
<line x1="224.00599478300347" y1="419.4" x2="224.00599478300347" y2="420.59999999999997" stroke="#555" stroke-width="0.55"/>
<line x1="226.56524577132848" y1="419.4" x2="226.56524577132848" y2="420.59999999999997" stroke="#555" stroke-width="0.55"/>
<line x1="228.7290616504608" y1="419.4" x2="228.7290616504608" y2="420.59999999999997" stroke="#555" stroke-width="0.55"/>
<line x1="230.60344422241818" y1="419.4" x2="230.60344422241818" y2="420.59999999999997" stroke="#555" stroke-width="0.55"/>
<line x1="232.2567668229496" y1="419.4" x2="232.2567668229496" y2="420.59999999999997" stroke="#555" stroke-width="0.55"/>
<line x1="233.73571428571427" y1="419.4" x2="233.73571428571427" y2="421.79999999999995" stroke="#555" stroke-width="0.55"/>
<line x1="243.4654337884251" y1="419.4" x2="243.4654337884251" y2="420.59999999999997" stroke="#555" stroke-width="0.55"/>
<line x1="249.1569548400462" y1="419.4" x2="249.1569548400462" y2="420.59999999999997" stroke="#555" stroke-width="0.55"/>
<line x1="253.1951532911359" y1="419.4" x2="253.1951532911359" y2="420.59999999999997" stroke="#555" stroke-width="0.55"/>
<line x1="256.327423354432" y1="419.4" x2="256.327423354432" y2="420.59999999999997" stroke="#555" stroke-width="0.55"/>
<line x1="258.88667434275703" y1="419.4" x2="258.88667434275703" y2="420.59999999999997" stroke="#555" stroke-width="0.55"/>
<line x1="261.05049022188933" y1="419.4" x2="261.05049022188933" y2="420.59999999999997" stroke="#555" stroke-width="0.55"/>
<line x1="262.9248727938467" y1="419.4" x2="262.9248727938467" y2="420.59999999999997" stroke="#555" stroke-width="0.55"/>
<line x1="264.57819539437816" y1="419.4" x2="264.57819539437816" y2="420.59999999999997" stroke="#555" stroke-width="0.55"/>
<text x="234.6" y="428.0" font-size="3.3" text-anchor="end" fill="#4a4a4a" stroke="#4a4a4a" stroke-width="0.07">10</text>
<text x="237.1" y="425.4" font-size="2.7" text-anchor="start" fill="#4a4a4a" stroke="#4a4a4a" stroke-width="0.06">1</text>
<line x1="266.0571428571428" y1="419.4" x2="266.0571428571428" y2="421.79999999999995" stroke="#555" stroke-width="0.55"/>
<line x1="275.7868623598536" y1="419.4" x2="275.7868623598536" y2="420.59999999999997" stroke="#555" stroke-width="0.55"/>
<line x1="281.47838341147474" y1="419.4" x2="281.47838341147474" y2="420.59999999999997" stroke="#555" stroke-width="0.55"/>
<line x1="285.51658186256446" y1="419.4" x2="285.51658186256446" y2="420.59999999999997" stroke="#555" stroke-width="0.55"/>
<line x1="288.6488519258606" y1="419.4" x2="288.6488519258606" y2="420.59999999999997" stroke="#555" stroke-width="0.55"/>
<line x1="291.2081029141856" y1="419.4" x2="291.2081029141856" y2="420.59999999999997" stroke="#555" stroke-width="0.55"/>
<line x1="293.3719187933179" y1="419.4" x2="293.3719187933179" y2="420.59999999999997" stroke="#555" stroke-width="0.55"/>
<line x1="295.24630136527526" y1="419.4" x2="295.24630136527526" y2="420.59999999999997" stroke="#555" stroke-width="0.55"/>
<line x1="296.8996239658067" y1="419.4" x2="296.8996239658067" y2="420.59999999999997" stroke="#555" stroke-width="0.55"/>
<text x="267.0" y="428.0" font-size="3.3" text-anchor="end" fill="#4a4a4a" stroke="#4a4a4a" stroke-width="0.07">10</text>
<text x="269.5" y="425.4" font-size="2.7" text-anchor="start" fill="#4a4a4a" stroke="#4a4a4a" stroke-width="0.06">2</text>
<line x1="298.37857142857143" y1="419.4" x2="298.37857142857143" y2="421.79999999999995" stroke="#555" stroke-width="0.55"/>
<line x1="308.1082909312822" y1="419.4" x2="308.1082909312822" y2="420.59999999999997" stroke="#555" stroke-width="0.55"/>
<line x1="313.7998119829034" y1="419.4" x2="313.7998119829034" y2="420.59999999999997" stroke="#555" stroke-width="0.55"/>
<line x1="317.8380104339931" y1="419.4" x2="317.8380104339931" y2="420.59999999999997" stroke="#555" stroke-width="0.55"/>
<line x1="320.9702804972892" y1="419.4" x2="320.9702804972892" y2="420.59999999999997" stroke="#555" stroke-width="0.55"/>
<line x1="323.5295314856142" y1="419.4" x2="323.5295314856142" y2="420.59999999999997" stroke="#555" stroke-width="0.55"/>
<line x1="325.6933473647465" y1="419.4" x2="325.6933473647465" y2="420.59999999999997" stroke="#555" stroke-width="0.55"/>
<line x1="327.56772993670387" y1="419.4" x2="327.56772993670387" y2="420.59999999999997" stroke="#555" stroke-width="0.55"/>
<line x1="329.2210525372353" y1="419.4" x2="329.2210525372353" y2="420.59999999999997" stroke="#555" stroke-width="0.55"/>
<text x="299.3" y="428.0" font-size="3.3" text-anchor="end" fill="#4a4a4a" stroke="#4a4a4a" stroke-width="0.07">10</text>
<text x="301.8" y="425.4" font-size="2.7" text-anchor="start" fill="#4a4a4a" stroke="#4a4a4a" stroke-width="0.06">3</text>
<line x1="330.7" y1="419.4" x2="330.7" y2="421.79999999999995" stroke="#555" stroke-width="0.55"/>
<text x="331.6" y="428.0" font-size="3.3" text-anchor="end" fill="#4a4a4a" stroke="#4a4a4a" stroke-width="0.07">10</text>
<text x="334.1" y="425.4" font-size="2.7" text-anchor="start" fill="#4a4a4a" stroke="#4a4a4a" stroke-width="0.06">4</text>
<text x="184.7" y="366.95000000000005" font-size="4.5" text-anchor="middle" fill="#3a3a3a" stroke="#3a3a3a" stroke-width="0.1" transform="rotate(-90 184.7 366.95000000000005)">% of Max</text>
<clipPath id="cp1"><rect x="204" y="316.3" width="127" height="103.29999999999997"/></clipPath>
<g clip-path="url(#cp1)">
<path d="M204.0 413.7 L204.5 414.2 L205.0 414.0 L205.5 414.1 L206.0 414.5 L206.5 414.9 L207.0 414.3 L207.5 413.9 L208.0 414.3 L208.5 414.1 L209.0 413.7 L209.5 412.6 L210.0 412.5 L210.5 412.0 L211.0 410.8 L211.5 411.3 L212.0 410.5 L212.5 411.0 L213.0 409.2 L213.5 408.3 L214.0 408.5 L214.5 407.2 L215.0 406.2 L215.5 403.8 L216.0 402.5 L216.5 401.5 L217.0 399.5 L217.5 396.7 L218.0 393.3 L218.5 392.3 L219.0 389.6 L219.5 387.3 L220.0 383.6 L220.5 381.2 L221.0 376.7 L221.5 373.7 L222.0 371.2 L222.5 365.9 L223.0 363.6 L223.5 360.3 L224.0 360.4 L224.5 354.5 L225.0 352.5 L225.5 349.4 L226.0 345.1 L226.5 340.1 L227.0 340.8 L227.5 335.1 L228.0 333.3 L228.5 326.5 L229.0 324.6 L229.5 326.7 L230.0 327.9 L230.5 324.3 L231.0 324.2 L231.5 325.0 L232.0 324.9 L232.5 322.5 L233.0 323.3 L233.5 324.7 L234.0 330.8 L234.5 335.1 L235.0 336.0 L235.5 337.8 L236.0 342.2 L236.5 347.8 L237.0 347.5 L237.5 352.7 L238.0 354.4 L238.5 358.4 L239.0 361.4 L239.5 364.9 L240.0 369.8 L240.5 371.8 L241.0 376.1 L241.5 377.6 L242.0 380.6 L242.5 384.9 L243.0 385.1 L243.5 391.2 L244.0 394.4 L244.5 395.8 L245.0 399.7 L245.5 401.5 L246.0 402.9 L246.5 406.4 L247.0 407.6 L247.5 409.6 L248.0 411.5 L248.5 413.7 L249.0 414.1 L249.5 414.8 L250.0 415.8 L250.5 416.0 L251.0 417.4 L251.5 417.1 L252.0 417.7 L252.5 417.7 L253.0 418.0 L253.5 418.4 L254.0 418.8 L254.5 418.8 L255.0 418.7 L255.5 418.8 L256.0 418.8 L256.5 418.9 L257.0 419.0" fill="none" stroke="#8a8a8a" stroke-width="0.8" stroke-linejoin="miter"/>
<path d="M204.0 416.7 L204.5 417.0 L205.0 417.1 L205.5 416.6 L206.0 416.3 L206.5 416.5 L207.0 416.6 L207.5 416.6 L208.0 416.1 L208.5 416.2 L209.0 416.9 L209.5 417.0 L210.0 417.4 L210.5 417.4 L211.0 417.3 L211.5 417.4 L212.0 418.0 L212.5 417.3 L213.0 417.1 L213.5 417.0 L214.0 417.2 L214.5 417.1 L215.0 417.0 L215.5 417.0 L216.0 416.9 L216.5 416.8 L217.0 416.8 L217.5 416.4 L218.0 415.6 L218.5 416.2 L219.0 415.4 L219.5 415.6 L220.0 415.0 L220.5 415.0 L221.0 414.2 L221.5 414.1 L222.0 414.8 L222.5 413.0 L223.0 412.9 L223.5 411.1 L224.0 410.7 L224.5 410.4 L225.0 409.2 L225.5 408.5 L226.0 406.7 L226.5 404.3 L227.0 403.7 L227.5 401.1 L228.0 400.8 L228.5 396.3 L229.0 394.6 L229.5 391.3 L230.0 389.5 L230.5 385.0 L231.0 383.6 L231.5 379.5 L232.0 378.0 L232.5 374.0 L233.0 369.6 L233.5 364.5 L234.0 362.6 L234.5 358.4 L235.0 357.4 L235.5 352.3 L236.0 351.3 L236.5 348.9 L237.0 346.4 L237.5 344.6 L238.0 342.9 L238.5 340.1 L239.0 337.8 L239.5 337.3 L240.0 337.3 L240.5 337.4 L241.0 335.3 L241.5 334.2 L242.0 336.5 L242.5 337.5 L243.0 335.1 L243.5 337.5 L244.0 340.4 L244.5 338.6 L245.0 337.7 L245.5 341.1 L246.0 337.7 L246.5 337.9 L247.0 336.8 L247.5 332.6 L248.0 337.0 L248.5 334.4 L249.0 330.3 L249.5 330.5 L250.0 329.3 L250.5 327.5 L251.0 328.6 L251.5 329.2 L252.0 329.7 L252.5 328.2 L253.0 326.4 L253.5 327.4 L254.0 322.6 L254.5 324.1 L255.0 329.3 L255.5 332.1 L256.0 330.2 L256.5 332.2 L257.0 334.6 L257.5 336.2 L258.0 339.0 L258.5 337.2 L259.0 341.8 L259.5 346.3 L260.0 349.0 L260.5 349.8 L261.0 358.0 L261.5 363.4 L262.0 365.1 L262.5 366.2 L263.0 371.3 L263.5 376.8 L264.0 383.6 L264.5 385.4 L265.0 388.7 L265.5 393.9 L266.0 396.6 L266.5 402.1 L267.0 404.0 L267.5 406.5 L268.0 409.5 L268.5 412.0 L269.0 413.7 L269.5 414.5 L270.0 414.8 L270.5 416.2 L271.0 417.0 L271.5 417.3 L272.0 417.8 L272.5 417.8 L273.0 418.3 L273.5 418.5 L274.0 418.6 L274.5 418.7 L275.0 418.8 L275.5 418.9 L276.0 418.8 L276.5 418.9 L277.0 419.0" fill="none" stroke="#404040" stroke-width="0.85" stroke-linejoin="miter"/>
</g>
<line x1="203.5" y1="419.4" x2="331.4" y2="419.4" stroke="#4a4a4a" stroke-width="1.0"/>
<path d="M360.6 316.6 H487 V419.6" fill="none" stroke="#a0a0a0" stroke-width="0.9"/>
<line x1="360.6" y1="316.20000000000005" x2="360.6" y2="419.6" stroke="#8a8a8a" stroke-width="1.0"/>
<line x1="358.20000000000005" y1="316.6" x2="360.6" y2="316.6" stroke="#787878" stroke-width="0.7"/>
<text x="352.6" y="318.1" font-size="3.3" text-anchor="end" fill="#4a4a4a" stroke="#4a4a4a" stroke-width="0.07">100</text>
<line x1="358.20000000000005" y1="337.20000000000005" x2="360.6" y2="337.20000000000005" stroke="#787878" stroke-width="0.7"/>
<text x="352.6" y="338.70000000000005" font-size="3.3" text-anchor="end" fill="#4a4a4a" stroke="#4a4a4a" stroke-width="0.07">80</text>
<line x1="358.20000000000005" y1="357.8" x2="360.6" y2="357.8" stroke="#787878" stroke-width="0.7"/>
<text x="352.6" y="359.3" font-size="3.3" text-anchor="end" fill="#4a4a4a" stroke="#4a4a4a" stroke-width="0.07">60</text>
<line x1="358.20000000000005" y1="378.40000000000003" x2="360.6" y2="378.40000000000003" stroke="#787878" stroke-width="0.7"/>
<text x="352.6" y="379.90000000000003" font-size="3.3" text-anchor="end" fill="#4a4a4a" stroke="#4a4a4a" stroke-width="0.07">40</text>
<line x1="358.20000000000005" y1="399.0" x2="360.6" y2="399.0" stroke="#787878" stroke-width="0.7"/>
<text x="352.6" y="400.5" font-size="3.3" text-anchor="end" fill="#4a4a4a" stroke="#4a4a4a" stroke-width="0.07">20</text>
<line x1="358.20000000000005" y1="419.6" x2="360.6" y2="419.6" stroke="#787878" stroke-width="0.7"/>
<text x="352.6" y="421.1" font-size="3.3" text-anchor="end" fill="#4a4a4a" stroke="#4a4a4a" stroke-width="0.07">0</text>
<line x1="359.5" y1="316.6" x2="360.6" y2="316.6" stroke="#909090" stroke-width="0.5"/>
<line x1="359.5" y1="318.66" x2="360.6" y2="318.66" stroke="#909090" stroke-width="0.5"/>
<line x1="359.5" y1="320.72" x2="360.6" y2="320.72" stroke="#909090" stroke-width="0.5"/>
<line x1="359.5" y1="322.78000000000003" x2="360.6" y2="322.78000000000003" stroke="#909090" stroke-width="0.5"/>
<line x1="359.5" y1="324.84000000000003" x2="360.6" y2="324.84000000000003" stroke="#909090" stroke-width="0.5"/>
<line x1="359.5" y1="326.90000000000003" x2="360.6" y2="326.90000000000003" stroke="#909090" stroke-width="0.5"/>
<line x1="359.5" y1="328.96000000000004" x2="360.6" y2="328.96000000000004" stroke="#909090" stroke-width="0.5"/>
<line x1="359.5" y1="331.02000000000004" x2="360.6" y2="331.02000000000004" stroke="#909090" stroke-width="0.5"/>
<line x1="359.5" y1="333.08000000000004" x2="360.6" y2="333.08000000000004" stroke="#909090" stroke-width="0.5"/>
<line x1="359.5" y1="335.14000000000004" x2="360.6" y2="335.14000000000004" stroke="#909090" stroke-width="0.5"/>
<line x1="359.5" y1="337.20000000000005" x2="360.6" y2="337.20000000000005" stroke="#909090" stroke-width="0.5"/>
<line x1="359.5" y1="339.26000000000005" x2="360.6" y2="339.26000000000005" stroke="#909090" stroke-width="0.5"/>
<line x1="359.5" y1="341.32000000000005" x2="360.6" y2="341.32000000000005" stroke="#909090" stroke-width="0.5"/>
<line x1="359.5" y1="343.38" x2="360.6" y2="343.38" stroke="#909090" stroke-width="0.5"/>
<line x1="359.5" y1="345.44" x2="360.6" y2="345.44" stroke="#909090" stroke-width="0.5"/>
<line x1="359.5" y1="347.5" x2="360.6" y2="347.5" stroke="#909090" stroke-width="0.5"/>
<line x1="359.5" y1="349.56" x2="360.6" y2="349.56" stroke="#909090" stroke-width="0.5"/>
<line x1="359.5" y1="351.62" x2="360.6" y2="351.62" stroke="#909090" stroke-width="0.5"/>
<line x1="359.5" y1="353.68" x2="360.6" y2="353.68" stroke="#909090" stroke-width="0.5"/>
<line x1="359.5" y1="355.74" x2="360.6" y2="355.74" stroke="#909090" stroke-width="0.5"/>
<line x1="359.5" y1="357.8" x2="360.6" y2="357.8" stroke="#909090" stroke-width="0.5"/>
<line x1="359.5" y1="359.86" x2="360.6" y2="359.86" stroke="#909090" stroke-width="0.5"/>
<line x1="359.5" y1="361.92" x2="360.6" y2="361.92" stroke="#909090" stroke-width="0.5"/>
<line x1="359.5" y1="363.98" x2="360.6" y2="363.98" stroke="#909090" stroke-width="0.5"/>
<line x1="359.5" y1="366.04" x2="360.6" y2="366.04" stroke="#909090" stroke-width="0.5"/>
<line x1="359.5" y1="368.1" x2="360.6" y2="368.1" stroke="#909090" stroke-width="0.5"/>
<line x1="359.5" y1="370.16" x2="360.6" y2="370.16" stroke="#909090" stroke-width="0.5"/>
<line x1="359.5" y1="372.22" x2="360.6" y2="372.22" stroke="#909090" stroke-width="0.5"/>
<line x1="359.5" y1="374.28000000000003" x2="360.6" y2="374.28000000000003" stroke="#909090" stroke-width="0.5"/>
<line x1="359.5" y1="376.34000000000003" x2="360.6" y2="376.34000000000003" stroke="#909090" stroke-width="0.5"/>
<line x1="359.5" y1="378.40000000000003" x2="360.6" y2="378.40000000000003" stroke="#909090" stroke-width="0.5"/>
<line x1="359.5" y1="380.46000000000004" x2="360.6" y2="380.46000000000004" stroke="#909090" stroke-width="0.5"/>
<line x1="359.5" y1="382.52000000000004" x2="360.6" y2="382.52000000000004" stroke="#909090" stroke-width="0.5"/>
<line x1="359.5" y1="384.58000000000004" x2="360.6" y2="384.58000000000004" stroke="#909090" stroke-width="0.5"/>
<line x1="359.5" y1="386.64000000000004" x2="360.6" y2="386.64000000000004" stroke="#909090" stroke-width="0.5"/>
<line x1="359.5" y1="388.70000000000005" x2="360.6" y2="388.70000000000005" stroke="#909090" stroke-width="0.5"/>
<line x1="359.5" y1="390.76" x2="360.6" y2="390.76" stroke="#909090" stroke-width="0.5"/>
<line x1="359.5" y1="392.82000000000005" x2="360.6" y2="392.82000000000005" stroke="#909090" stroke-width="0.5"/>
<line x1="359.5" y1="394.88" x2="360.6" y2="394.88" stroke="#909090" stroke-width="0.5"/>
<line x1="359.5" y1="396.94000000000005" x2="360.6" y2="396.94000000000005" stroke="#909090" stroke-width="0.5"/>
<line x1="359.5" y1="399.0" x2="360.6" y2="399.0" stroke="#909090" stroke-width="0.5"/>
<line x1="359.5" y1="401.06" x2="360.6" y2="401.06" stroke="#909090" stroke-width="0.5"/>
<line x1="359.5" y1="403.12" x2="360.6" y2="403.12" stroke="#909090" stroke-width="0.5"/>
<line x1="359.5" y1="405.18" x2="360.6" y2="405.18" stroke="#909090" stroke-width="0.5"/>
<line x1="359.5" y1="407.24" x2="360.6" y2="407.24" stroke="#909090" stroke-width="0.5"/>
<line x1="359.5" y1="409.3" x2="360.6" y2="409.3" stroke="#909090" stroke-width="0.5"/>
<line x1="359.5" y1="411.36" x2="360.6" y2="411.36" stroke="#909090" stroke-width="0.5"/>
<line x1="359.5" y1="413.42" x2="360.6" y2="413.42" stroke="#909090" stroke-width="0.5"/>
<line x1="359.5" y1="415.48" x2="360.6" y2="415.48" stroke="#909090" stroke-width="0.5"/>
<line x1="359.5" y1="417.54" x2="360.6" y2="417.54" stroke="#909090" stroke-width="0.5"/>
<line x1="367.7101740952112" y1="419.6" x2="367.7101740952112" y2="420.8" stroke="#555" stroke-width="0.55"/>
<line x1="373.37474240309933" y1="419.6" x2="373.37474240309933" y2="420.8" stroke="#555" stroke-width="0.55"/>
<line x1="377.39381757817756" y1="419.6" x2="377.39381757817756" y2="420.8" stroke="#555" stroke-width="0.55"/>
<line x1="380.5112544762173" y1="419.6" x2="380.5112544762173" y2="420.8" stroke="#555" stroke-width="0.55"/>
<line x1="383.05838588606565" y1="419.6" x2="383.05838588606565" y2="420.8" stroke="#555" stroke-width="0.55"/>
<line x1="385.21195480760144" y1="419.6" x2="385.21195480760144" y2="420.8" stroke="#555" stroke-width="0.55"/>
<line x1="387.0774610611439" y1="419.6" x2="387.0774610611439" y2="420.8" stroke="#555" stroke-width="0.55"/>
<line x1="388.72295419395374" y1="419.6" x2="388.72295419395374" y2="420.8" stroke="#555" stroke-width="0.55"/>
<line x1="390.19489795918366" y1="419.6" x2="390.19489795918366" y2="422.0" stroke="#555" stroke-width="0.55"/>
<line x1="399.87854144215" y1="419.6" x2="399.87854144215" y2="420.8" stroke="#555" stroke-width="0.55"/>
<line x1="405.5431097500381" y1="419.6" x2="405.5431097500381" y2="420.8" stroke="#555" stroke-width="0.55"/>
<line x1="409.56218492511636" y1="419.6" x2="409.56218492511636" y2="420.8" stroke="#555" stroke-width="0.55"/>
<line x1="412.6796218231561" y1="419.6" x2="412.6796218231561" y2="420.8" stroke="#555" stroke-width="0.55"/>
<line x1="415.22675323300444" y1="419.6" x2="415.22675323300444" y2="420.8" stroke="#555" stroke-width="0.55"/>
<line x1="417.38032215454024" y1="419.6" x2="417.38032215454024" y2="420.8" stroke="#555" stroke-width="0.55"/>
<line x1="419.2458284080827" y1="419.6" x2="419.2458284080827" y2="420.8" stroke="#555" stroke-width="0.55"/>
<line x1="420.89132154089253" y1="419.6" x2="420.89132154089253" y2="420.8" stroke="#555" stroke-width="0.55"/>
<text x="391.1" y="428.20000000000005" font-size="3.3" text-anchor="end" fill="#4a4a4a" stroke="#4a4a4a" stroke-width="0.07">10</text>
<text x="393.6" y="425.6" font-size="2.7" text-anchor="start" fill="#4a4a4a" stroke="#4a4a4a" stroke-width="0.06">1</text>
<line x1="422.36326530612246" y1="419.6" x2="422.36326530612246" y2="422.0" stroke="#555" stroke-width="0.55"/>
<line x1="432.0469087890888" y1="419.6" x2="432.0469087890888" y2="420.8" stroke="#555" stroke-width="0.55"/>
<line x1="437.7114770969769" y1="419.6" x2="437.7114770969769" y2="420.8" stroke="#555" stroke-width="0.55"/>
<line x1="441.73055227205515" y1="419.6" x2="441.73055227205515" y2="420.8" stroke="#555" stroke-width="0.55"/>
<line x1="444.8479891700949" y1="419.6" x2="444.8479891700949" y2="420.8" stroke="#555" stroke-width="0.55"/>
<line x1="447.39512057994324" y1="419.6" x2="447.39512057994324" y2="420.8" stroke="#555" stroke-width="0.55"/>
<line x1="449.54868950147903" y1="419.6" x2="449.54868950147903" y2="420.8" stroke="#555" stroke-width="0.55"/>
<line x1="451.41419575502147" y1="419.6" x2="451.41419575502147" y2="420.8" stroke="#555" stroke-width="0.55"/>
<line x1="453.0596888878313" y1="419.6" x2="453.0596888878313" y2="420.8" stroke="#555" stroke-width="0.55"/>
<text x="423.3" y="428.20000000000005" font-size="3.3" text-anchor="end" fill="#4a4a4a" stroke="#4a4a4a" stroke-width="0.07">10</text>
<text x="425.8" y="425.6" font-size="2.7" text-anchor="start" fill="#4a4a4a" stroke="#4a4a4a" stroke-width="0.06">2</text>
<line x1="454.5316326530612" y1="419.6" x2="454.5316326530612" y2="422.0" stroke="#555" stroke-width="0.55"/>
<line x1="464.2152761360275" y1="419.6" x2="464.2152761360275" y2="420.8" stroke="#555" stroke-width="0.55"/>
<line x1="469.87984444391566" y1="419.6" x2="469.87984444391566" y2="420.8" stroke="#555" stroke-width="0.55"/>
<line x1="473.8989196189939" y1="419.6" x2="473.8989196189939" y2="420.8" stroke="#555" stroke-width="0.55"/>
<line x1="477.0163565170336" y1="419.6" x2="477.0163565170336" y2="420.8" stroke="#555" stroke-width="0.55"/>
<line x1="479.563487926882" y1="419.6" x2="479.563487926882" y2="420.8" stroke="#555" stroke-width="0.55"/>
<line x1="481.71705684841777" y1="419.6" x2="481.71705684841777" y2="420.8" stroke="#555" stroke-width="0.55"/>
<line x1="483.5825631019602" y1="419.6" x2="483.5825631019602" y2="420.8" stroke="#555" stroke-width="0.55"/>
<line x1="485.22805623477007" y1="419.6" x2="485.22805623477007" y2="420.8" stroke="#555" stroke-width="0.55"/>
<text x="455.4" y="428.20000000000005" font-size="3.3" text-anchor="end" fill="#4a4a4a" stroke="#4a4a4a" stroke-width="0.07">10</text>
<text x="457.9" y="425.6" font-size="2.7" text-anchor="start" fill="#4a4a4a" stroke="#4a4a4a" stroke-width="0.06">3</text>
<line x1="486.7" y1="419.6" x2="486.7" y2="422.0" stroke="#555" stroke-width="0.55"/>
<text x="487.6" y="428.20000000000005" font-size="3.3" text-anchor="end" fill="#4a4a4a" stroke="#4a4a4a" stroke-width="0.07">10</text>
<text x="490.1" y="425.6" font-size="2.7" text-anchor="start" fill="#4a4a4a" stroke="#4a4a4a" stroke-width="0.06">4</text>
<text x="341.3" y="367.20000000000005" font-size="4.5" text-anchor="middle" fill="#3a3a3a" stroke="#3a3a3a" stroke-width="0.1" transform="rotate(-90 341.3 367.20000000000005)">% of Max</text>
<clipPath id="cp2"><rect x="360.6" y="316.6" width="126.39999999999998" height="103.2"/></clipPath>
<g clip-path="url(#cp2)">
<path d="M360.9 414.9 L361.4 413.5 L361.9 413.8 L362.4 413.5 L362.9 413.6 L363.4 411.9 L363.9 411.7 L364.4 410.9 L364.9 410.0 L365.4 409.4 L365.9 408.7 L366.4 408.0 L366.9 406.8 L367.4 406.7 L367.9 405.3 L368.4 402.7 L368.9 404.8 L369.4 402.9 L369.9 401.7 L370.4 401.2 L370.9 400.0 L371.4 398.6 L371.9 396.0 L372.4 394.9 L372.9 391.5 L373.4 392.0 L373.9 386.7 L374.4 385.1 L374.9 382.6 L375.4 380.3 L375.9 377.3 L376.4 375.7 L376.9 368.6 L377.4 371.0 L377.9 369.4 L378.4 367.6 L378.9 368.6 L379.4 365.6 L379.9 366.4 L380.4 358.2 L380.9 355.7 L381.4 353.9 L381.9 353.5 L382.4 353.6 L382.9 345.7 L383.4 346.0 L383.9 345.4 L384.4 338.7 L384.9 335.1 L385.4 333.3 L385.9 324.9 L386.4 330.4 L386.9 328.9 L387.4 329.0 L387.9 324.0 L388.4 328.9 L388.9 328.3 L389.4 324.0 L389.9 320.2 L390.4 324.7 L390.9 328.6 L391.4 329.1 L391.9 333.1 L392.4 335.2 L392.9 333.0 L393.4 331.9 L393.9 335.2 L394.4 337.7 L394.9 343.7 L395.4 346.4 L395.9 353.8 L396.4 355.1 L396.9 357.9 L397.4 363.4 L397.9 365.8 L398.4 368.3 L398.9 372.3 L399.4 376.2 L399.9 375.9 L400.4 381.5 L400.9 384.6 L401.4 387.8 L401.9 391.9 L402.4 393.0 L402.9 397.4 L403.4 399.3 L403.9 402.3 L404.4 404.7 L404.9 406.8 L405.4 408.8 L405.9 411.3 L406.4 414.0 L406.9 415.3 L407.4 415.8 L407.9 416.4 L408.4 416.7 L408.9 417.7 L409.4 418.3 L409.9 417.8 L410.4 418.4 L410.9 418.6 L411.4 418.6 L411.9 418.1 L412.4 417.6 L412.9 418.0 L413.4 418.5 L413.9 419.0 L414.4 419.0 L414.9 419.1 L415.4 419.2 L415.9 419.3" fill="none" stroke="#8a8a8a" stroke-width="0.8" stroke-linejoin="miter"/>
<path d="M360.9 416.6 L361.4 416.9 L361.9 416.7 L362.4 416.5 L362.9 416.8 L363.4 416.4 L363.9 416.2 L364.4 416.8 L364.9 416.0 L365.4 415.7 L365.9 415.7 L366.4 415.9 L366.9 416.2 L367.4 416.5 L367.9 416.8 L368.4 417.2 L368.9 417.4 L369.4 417.0 L369.9 416.9 L370.4 416.4 L370.9 415.7 L371.4 415.8 L371.9 414.9 L372.4 414.2 L372.9 414.5 L373.4 413.4 L373.9 412.2 L374.4 411.8 L374.9 412.2 L375.4 410.0 L375.9 409.6 L376.4 408.7 L376.9 407.7 L377.4 406.9 L377.9 405.4 L378.4 404.5 L378.9 403.9 L379.4 402.9 L379.9 402.7 L380.4 401.4 L380.9 397.6 L381.4 396.8 L381.9 393.6 L382.4 391.6 L382.9 389.3 L383.4 387.0 L383.9 383.8 L384.4 378.8 L384.9 380.5 L385.4 376.0 L385.9 372.8 L386.4 370.6 L386.9 365.1 L387.4 361.4 L387.9 361.4 L388.4 358.7 L388.9 354.5 L389.4 354.3 L389.9 351.2 L390.4 346.9 L390.9 349.2 L391.4 344.9 L391.9 340.8 L392.4 341.3 L392.9 338.9 L393.4 338.3 L393.9 332.8 L394.4 335.2 L394.9 333.5 L395.4 332.8 L395.9 334.0 L396.4 335.9 L396.9 333.4 L397.4 330.8 L397.9 328.5 L398.4 331.2 L398.9 330.5 L399.4 328.8 L399.9 328.0 L400.4 328.4 L400.9 322.3 L401.4 326.4 L401.9 321.0 L402.4 325.2 L402.9 326.2 L403.4 327.3 L403.9 322.9 L404.4 324.1 L404.9 323.5 L405.4 320.2 L405.9 328.1 L406.4 330.4 L406.9 333.0 L407.4 333.6 L407.9 336.1 L408.4 336.9 L408.9 341.8 L409.4 344.7 L409.9 353.8 L410.4 351.9 L410.9 356.0 L411.4 360.2 L411.9 362.1 L412.4 368.1 L412.9 369.9 L413.4 370.3 L413.9 374.7 L414.4 378.6 L414.9 379.6 L415.4 385.4 L415.9 389.2 L416.4 395.6 L416.9 398.0 L417.4 401.4 L417.9 404.4 L418.4 408.7 L418.9 410.2 L419.4 414.2 L419.9 413.7 L420.4 415.3 L420.9 416.4 L421.4 417.3 L421.9 417.7 L422.4 418.2 L422.9 418.2 L423.4 418.4 L423.9 419.0 L424.4 419.1 L424.9 419.0 L425.4 419.2 L425.9 419.2" fill="none" stroke="#404040" stroke-width="0.85" stroke-linejoin="miter"/>
</g>
<line x1="360.1" y1="419.6" x2="487.4" y2="419.6" stroke="#4a4a4a" stroke-width="1.0"/>
<path d="M204 432.7 H331 V536.2" fill="none" stroke="#a0a0a0" stroke-width="0.9"/>
<line x1="204" y1="432.3" x2="204" y2="536.2" stroke="#8a8a8a" stroke-width="1.0"/>
<line x1="201.6" y1="432.7" x2="204" y2="432.7" stroke="#787878" stroke-width="0.7"/>
<text x="196" y="434.2" font-size="3.3" text-anchor="end" fill="#4a4a4a" stroke="#4a4a4a" stroke-width="0.07">100</text>
<line x1="201.6" y1="453.4" x2="204" y2="453.4" stroke="#787878" stroke-width="0.7"/>
<text x="196" y="454.9" font-size="3.3" text-anchor="end" fill="#4a4a4a" stroke="#4a4a4a" stroke-width="0.07">80</text>
<line x1="201.6" y1="474.1" x2="204" y2="474.1" stroke="#787878" stroke-width="0.7"/>
<text x="196" y="475.6" font-size="3.3" text-anchor="end" fill="#4a4a4a" stroke="#4a4a4a" stroke-width="0.07">60</text>
<line x1="201.6" y1="494.8" x2="204" y2="494.8" stroke="#787878" stroke-width="0.7"/>
<text x="196" y="496.3" font-size="3.3" text-anchor="end" fill="#4a4a4a" stroke="#4a4a4a" stroke-width="0.07">40</text>
<line x1="201.6" y1="515.5" x2="204" y2="515.5" stroke="#787878" stroke-width="0.7"/>
<text x="196" y="517.0" font-size="3.3" text-anchor="end" fill="#4a4a4a" stroke="#4a4a4a" stroke-width="0.07">20</text>
<line x1="201.6" y1="536.2" x2="204" y2="536.2" stroke="#787878" stroke-width="0.7"/>
<text x="196" y="537.7" font-size="3.3" text-anchor="end" fill="#4a4a4a" stroke="#4a4a4a" stroke-width="0.07">0</text>
<line x1="202.9" y1="432.7" x2="204" y2="432.7" stroke="#909090" stroke-width="0.5"/>
<line x1="202.9" y1="434.77" x2="204" y2="434.77" stroke="#909090" stroke-width="0.5"/>
<line x1="202.9" y1="436.84" x2="204" y2="436.84" stroke="#909090" stroke-width="0.5"/>
<line x1="202.9" y1="438.90999999999997" x2="204" y2="438.90999999999997" stroke="#909090" stroke-width="0.5"/>
<line x1="202.9" y1="440.98" x2="204" y2="440.98" stroke="#909090" stroke-width="0.5"/>
<line x1="202.9" y1="443.05" x2="204" y2="443.05" stroke="#909090" stroke-width="0.5"/>
<line x1="202.9" y1="445.12" x2="204" y2="445.12" stroke="#909090" stroke-width="0.5"/>
<line x1="202.9" y1="447.19" x2="204" y2="447.19" stroke="#909090" stroke-width="0.5"/>
<line x1="202.9" y1="449.26" x2="204" y2="449.26" stroke="#909090" stroke-width="0.5"/>
<line x1="202.9" y1="451.33" x2="204" y2="451.33" stroke="#909090" stroke-width="0.5"/>
<line x1="202.9" y1="453.4" x2="204" y2="453.4" stroke="#909090" stroke-width="0.5"/>
<line x1="202.9" y1="455.47" x2="204" y2="455.47" stroke="#909090" stroke-width="0.5"/>
<line x1="202.9" y1="457.54" x2="204" y2="457.54" stroke="#909090" stroke-width="0.5"/>
<line x1="202.9" y1="459.61" x2="204" y2="459.61" stroke="#909090" stroke-width="0.5"/>
<line x1="202.9" y1="461.68" x2="204" y2="461.68" stroke="#909090" stroke-width="0.5"/>
<line x1="202.9" y1="463.75" x2="204" y2="463.75" stroke="#909090" stroke-width="0.5"/>
<line x1="202.9" y1="465.82" x2="204" y2="465.82" stroke="#909090" stroke-width="0.5"/>
<line x1="202.9" y1="467.89" x2="204" y2="467.89" stroke="#909090" stroke-width="0.5"/>
<line x1="202.9" y1="469.96000000000004" x2="204" y2="469.96000000000004" stroke="#909090" stroke-width="0.5"/>
<line x1="202.9" y1="472.03000000000003" x2="204" y2="472.03000000000003" stroke="#909090" stroke-width="0.5"/>
<line x1="202.9" y1="474.1" x2="204" y2="474.1" stroke="#909090" stroke-width="0.5"/>
<line x1="202.9" y1="476.17" x2="204" y2="476.17" stroke="#909090" stroke-width="0.5"/>
<line x1="202.9" y1="478.24" x2="204" y2="478.24" stroke="#909090" stroke-width="0.5"/>
<line x1="202.9" y1="480.31" x2="204" y2="480.31" stroke="#909090" stroke-width="0.5"/>
<line x1="202.9" y1="482.38" x2="204" y2="482.38" stroke="#909090" stroke-width="0.5"/>
<line x1="202.9" y1="484.45000000000005" x2="204" y2="484.45000000000005" stroke="#909090" stroke-width="0.5"/>
<line x1="202.9" y1="486.52000000000004" x2="204" y2="486.52000000000004" stroke="#909090" stroke-width="0.5"/>
<line x1="202.9" y1="488.59000000000003" x2="204" y2="488.59000000000003" stroke="#909090" stroke-width="0.5"/>
<line x1="202.9" y1="490.66" x2="204" y2="490.66" stroke="#909090" stroke-width="0.5"/>
<line x1="202.9" y1="492.73" x2="204" y2="492.73" stroke="#909090" stroke-width="0.5"/>
<line x1="202.9" y1="494.8" x2="204" y2="494.8" stroke="#909090" stroke-width="0.5"/>
<line x1="202.9" y1="496.87" x2="204" y2="496.87" stroke="#909090" stroke-width="0.5"/>
<line x1="202.9" y1="498.94000000000005" x2="204" y2="498.94000000000005" stroke="#909090" stroke-width="0.5"/>
<line x1="202.9" y1="501.01" x2="204" y2="501.01" stroke="#909090" stroke-width="0.5"/>
<line x1="202.9" y1="503.08000000000004" x2="204" y2="503.08000000000004" stroke="#909090" stroke-width="0.5"/>
<line x1="202.9" y1="505.15000000000003" x2="204" y2="505.15000000000003" stroke="#909090" stroke-width="0.5"/>
<line x1="202.9" y1="507.22" x2="204" y2="507.22" stroke="#909090" stroke-width="0.5"/>
<line x1="202.9" y1="509.29" x2="204" y2="509.29" stroke="#909090" stroke-width="0.5"/>
<line x1="202.9" y1="511.36" x2="204" y2="511.36" stroke="#909090" stroke-width="0.5"/>
<line x1="202.9" y1="513.4300000000001" x2="204" y2="513.4300000000001" stroke="#909090" stroke-width="0.5"/>
<line x1="202.9" y1="515.5" x2="204" y2="515.5" stroke="#909090" stroke-width="0.5"/>
<line x1="202.9" y1="517.57" x2="204" y2="517.57" stroke="#909090" stroke-width="0.5"/>
<line x1="202.9" y1="519.6400000000001" x2="204" y2="519.6400000000001" stroke="#909090" stroke-width="0.5"/>
<line x1="202.9" y1="521.71" x2="204" y2="521.71" stroke="#909090" stroke-width="0.5"/>
<line x1="202.9" y1="523.7800000000001" x2="204" y2="523.7800000000001" stroke="#909090" stroke-width="0.5"/>
<line x1="202.9" y1="525.85" x2="204" y2="525.85" stroke="#909090" stroke-width="0.5"/>
<line x1="202.9" y1="527.9200000000001" x2="204" y2="527.9200000000001" stroke="#909090" stroke-width="0.5"/>
<line x1="202.9" y1="529.99" x2="204" y2="529.99" stroke="#909090" stroke-width="0.5"/>
<line x1="202.9" y1="532.0600000000001" x2="204" y2="532.0600000000001" stroke="#909090" stroke-width="0.5"/>
<line x1="202.9" y1="534.13" x2="204" y2="534.13" stroke="#909090" stroke-width="0.5"/>
<line x1="211.14400521699653" y1="536.2" x2="211.14400521699653" y2="537.4000000000001" stroke="#555" stroke-width="0.55"/>
<line x1="216.83552626861766" y1="536.2" x2="216.83552626861766" y2="537.4000000000001" stroke="#555" stroke-width="0.55"/>
<line x1="220.87372471970735" y1="536.2" x2="220.87372471970735" y2="537.4000000000001" stroke="#555" stroke-width="0.55"/>
<line x1="224.00599478300347" y1="536.2" x2="224.00599478300347" y2="537.4000000000001" stroke="#555" stroke-width="0.55"/>
<line x1="226.56524577132848" y1="536.2" x2="226.56524577132848" y2="537.4000000000001" stroke="#555" stroke-width="0.55"/>
<line x1="228.7290616504608" y1="536.2" x2="228.7290616504608" y2="537.4000000000001" stroke="#555" stroke-width="0.55"/>
<line x1="230.60344422241818" y1="536.2" x2="230.60344422241818" y2="537.4000000000001" stroke="#555" stroke-width="0.55"/>
<line x1="232.2567668229496" y1="536.2" x2="232.2567668229496" y2="537.4000000000001" stroke="#555" stroke-width="0.55"/>
<line x1="233.73571428571427" y1="536.2" x2="233.73571428571427" y2="538.6" stroke="#555" stroke-width="0.55"/>
<line x1="243.4654337884251" y1="536.2" x2="243.4654337884251" y2="537.4000000000001" stroke="#555" stroke-width="0.55"/>
<line x1="249.1569548400462" y1="536.2" x2="249.1569548400462" y2="537.4000000000001" stroke="#555" stroke-width="0.55"/>
<line x1="253.1951532911359" y1="536.2" x2="253.1951532911359" y2="537.4000000000001" stroke="#555" stroke-width="0.55"/>
<line x1="256.327423354432" y1="536.2" x2="256.327423354432" y2="537.4000000000001" stroke="#555" stroke-width="0.55"/>
<line x1="258.88667434275703" y1="536.2" x2="258.88667434275703" y2="537.4000000000001" stroke="#555" stroke-width="0.55"/>
<line x1="261.05049022188933" y1="536.2" x2="261.05049022188933" y2="537.4000000000001" stroke="#555" stroke-width="0.55"/>
<line x1="262.9248727938467" y1="536.2" x2="262.9248727938467" y2="537.4000000000001" stroke="#555" stroke-width="0.55"/>
<line x1="264.57819539437816" y1="536.2" x2="264.57819539437816" y2="537.4000000000001" stroke="#555" stroke-width="0.55"/>
<text x="234.6" y="544.8000000000001" font-size="3.3" text-anchor="end" fill="#4a4a4a" stroke="#4a4a4a" stroke-width="0.07">10</text>
<text x="237.1" y="542.2" font-size="2.7" text-anchor="start" fill="#4a4a4a" stroke="#4a4a4a" stroke-width="0.06">1</text>
<line x1="266.0571428571428" y1="536.2" x2="266.0571428571428" y2="538.6" stroke="#555" stroke-width="0.55"/>
<line x1="275.7868623598536" y1="536.2" x2="275.7868623598536" y2="537.4000000000001" stroke="#555" stroke-width="0.55"/>
<line x1="281.47838341147474" y1="536.2" x2="281.47838341147474" y2="537.4000000000001" stroke="#555" stroke-width="0.55"/>
<line x1="285.51658186256446" y1="536.2" x2="285.51658186256446" y2="537.4000000000001" stroke="#555" stroke-width="0.55"/>
<line x1="288.6488519258606" y1="536.2" x2="288.6488519258606" y2="537.4000000000001" stroke="#555" stroke-width="0.55"/>
<line x1="291.2081029141856" y1="536.2" x2="291.2081029141856" y2="537.4000000000001" stroke="#555" stroke-width="0.55"/>
<line x1="293.3719187933179" y1="536.2" x2="293.3719187933179" y2="537.4000000000001" stroke="#555" stroke-width="0.55"/>
<line x1="295.24630136527526" y1="536.2" x2="295.24630136527526" y2="537.4000000000001" stroke="#555" stroke-width="0.55"/>
<line x1="296.8996239658067" y1="536.2" x2="296.8996239658067" y2="537.4000000000001" stroke="#555" stroke-width="0.55"/>
<text x="267.0" y="544.8000000000001" font-size="3.3" text-anchor="end" fill="#4a4a4a" stroke="#4a4a4a" stroke-width="0.07">10</text>
<text x="269.5" y="542.2" font-size="2.7" text-anchor="start" fill="#4a4a4a" stroke="#4a4a4a" stroke-width="0.06">2</text>
<line x1="298.37857142857143" y1="536.2" x2="298.37857142857143" y2="538.6" stroke="#555" stroke-width="0.55"/>
<line x1="308.1082909312822" y1="536.2" x2="308.1082909312822" y2="537.4000000000001" stroke="#555" stroke-width="0.55"/>
<line x1="313.7998119829034" y1="536.2" x2="313.7998119829034" y2="537.4000000000001" stroke="#555" stroke-width="0.55"/>
<line x1="317.8380104339931" y1="536.2" x2="317.8380104339931" y2="537.4000000000001" stroke="#555" stroke-width="0.55"/>
<line x1="320.9702804972892" y1="536.2" x2="320.9702804972892" y2="537.4000000000001" stroke="#555" stroke-width="0.55"/>
<line x1="323.5295314856142" y1="536.2" x2="323.5295314856142" y2="537.4000000000001" stroke="#555" stroke-width="0.55"/>
<line x1="325.6933473647465" y1="536.2" x2="325.6933473647465" y2="537.4000000000001" stroke="#555" stroke-width="0.55"/>
<line x1="327.56772993670387" y1="536.2" x2="327.56772993670387" y2="537.4000000000001" stroke="#555" stroke-width="0.55"/>
<line x1="329.2210525372353" y1="536.2" x2="329.2210525372353" y2="537.4000000000001" stroke="#555" stroke-width="0.55"/>
<text x="299.3" y="544.8000000000001" font-size="3.3" text-anchor="end" fill="#4a4a4a" stroke="#4a4a4a" stroke-width="0.07">10</text>
<text x="301.8" y="542.2" font-size="2.7" text-anchor="start" fill="#4a4a4a" stroke="#4a4a4a" stroke-width="0.06">3</text>
<line x1="330.7" y1="536.2" x2="330.7" y2="538.6" stroke="#555" stroke-width="0.55"/>
<text x="331.6" y="544.8000000000001" font-size="3.3" text-anchor="end" fill="#4a4a4a" stroke="#4a4a4a" stroke-width="0.07">10</text>
<text x="334.1" y="542.2" font-size="2.7" text-anchor="start" fill="#4a4a4a" stroke="#4a4a4a" stroke-width="0.06">4</text>
<text x="184.7" y="485.95000000000005" font-size="4.5" text-anchor="middle" fill="#3a3a3a" stroke="#3a3a3a" stroke-width="0.1" transform="rotate(-90 184.7 485.95000000000005)">% of Max</text>
<clipPath id="cp3"><rect x="204" y="432.7" width="127" height="103.70000000000006"/></clipPath>
<g clip-path="url(#cp3)">
<path d="M204.6 535.2 L205.1 535.3 L205.6 534.7 L206.1 534.9 L206.6 534.5 L207.1 534.4 L207.6 534.7 L208.1 534.2 L208.6 533.9 L209.1 533.8 L209.6 533.6 L210.1 532.9 L210.6 532.8 L211.1 532.0 L211.6 531.8 L212.1 531.5 L212.6 530.7 L213.1 530.1 L213.6 529.6 L214.1 529.7 L214.6 529.2 L215.1 528.6 L215.6 528.2 L216.1 526.6 L216.6 526.3 L217.1 525.6 L217.6 525.0 L218.1 523.2 L218.6 522.5 L219.1 519.9 L219.6 519.4 L220.1 516.7 L220.6 515.7 L221.1 515.7 L221.6 510.7 L222.1 511.0 L222.6 508.3 L223.1 505.5 L223.6 503.9 L224.1 501.8 L224.6 500.1 L225.1 496.5 L225.6 493.2 L226.1 489.3 L226.6 485.8 L227.1 484.1 L227.6 480.4 L228.1 478.9 L228.6 470.9 L229.1 467.8 L229.6 464.1 L230.1 458.5 L230.6 460.6 L231.1 450.5 L231.6 450.6 L232.1 447.4 L232.6 449.5 L233.1 442.2 L233.6 440.8 L234.1 444.5 L234.6 448.1 L235.1 448.9 L235.6 453.6 L236.1 453.4 L236.6 457.5 L237.1 460.8 L237.6 465.6 L238.1 462.2 L238.6 470.4 L239.1 472.3 L239.6 473.0 L240.1 476.7 L240.6 478.3 L241.1 483.9 L241.6 485.2 L242.1 487.7 L242.6 490.9 L243.1 494.3 L243.6 497.7 L244.1 500.4 L244.6 506.6 L245.1 505.9 L245.6 507.5 L246.1 513.6 L246.6 516.6 L247.1 519.6 L247.6 521.4 L248.1 523.6 L248.6 526.1 L249.1 528.5 L249.6 529.1 L250.1 530.1 L250.6 532.0 L251.1 532.4 L251.6 532.8 L252.1 534.1 L252.6 534.1 L253.1 534.1 L253.6 534.4 L254.1 535.1 L254.6 535.3 L255.1 535.4 L255.6 535.5 L256.1 535.8 L256.6 536.0" fill="none" stroke="#8a8a8a" stroke-width="0.8" stroke-linejoin="miter"/>
<path d="M204.8 535.5 L205.3 535.6 L205.8 535.1 L206.3 534.7 L206.8 534.9 L207.3 534.9 L207.8 534.7 L208.3 534.6 L208.8 534.2 L209.3 533.8 L209.8 533.4 L210.3 533.2 L210.8 532.8 L211.3 532.9 L211.8 532.5 L212.3 531.5 L212.8 531.8 L213.3 531.1 L213.8 531.0 L214.3 530.7 L214.8 529.9 L215.3 528.3 L215.8 528.8 L216.3 526.8 L216.8 527.6 L217.3 525.5 L217.8 524.8 L218.3 525.2 L218.8 522.0 L219.3 521.6 L219.8 519.4 L220.3 518.3 L220.8 516.6 L221.3 515.8 L221.8 512.7 L222.3 511.0 L222.8 509.0 L223.3 504.5 L223.8 505.3 L224.3 501.4 L224.8 497.7 L225.3 496.5 L225.8 495.3 L226.3 491.6 L226.8 486.6 L227.3 484.7 L227.8 482.1 L228.3 479.4 L228.8 473.7 L229.3 471.2 L229.8 464.6 L230.3 461.0 L230.8 459.2 L231.3 455.9 L231.8 451.5 L232.3 449.7 L232.8 447.6 L233.3 447.2 L233.8 443.6 L234.3 447.5 L234.8 445.6 L235.3 441.1 L235.8 439.4 L236.3 436.1 L236.8 443.6 L237.3 445.1 L237.8 446.9 L238.3 443.8 L238.8 447.6 L239.3 449.1 L239.8 451.4 L240.3 459.3 L240.8 463.3 L241.3 462.9 L241.8 468.3 L242.3 473.0 L242.8 471.6 L243.3 477.0 L243.8 479.6 L244.3 481.7 L244.8 479.6 L245.3 482.4 L245.8 486.4 L246.3 489.7 L246.8 488.0 L247.3 490.0 L247.8 490.9 L248.3 494.8 L248.8 494.2 L249.3 496.9 L249.8 498.3 L250.3 500.2 L250.8 500.7 L251.3 502.0 L251.8 504.3 L252.3 505.0 L252.8 504.7 L253.3 506.7 L253.8 509.3 L254.3 509.9 L254.8 510.7 L255.3 512.5 L255.8 516.7 L256.4 515.5 L256.9 517.6 L257.4 519.2 L257.9 520.3 L258.4 522.8 L258.9 524.1 L259.4 525.3 L259.9 525.9 L260.4 528.5 L260.9 529.4 L261.4 530.1 L261.9 530.3 L262.4 532.4 L262.9 532.4 L263.4 533.2 L263.9 533.5 L264.4 533.9 L264.9 534.7 L265.4 534.7 L265.9 535.1 L266.4 534.9 L266.9 535.3 L267.4 535.7 L267.9 535.8 L268.4 535.8 L268.9 535.8 L269.4 536.0 L269.9 536.1" fill="none" stroke="#404040" stroke-width="0.85" stroke-linejoin="miter"/>
</g>
<line x1="203.5" y1="536.2" x2="331.4" y2="536.2" stroke="#4a4a4a" stroke-width="1.0"/>
<path d="M360.6 432.4 H487 V534.8" fill="none" stroke="#a0a0a0" stroke-width="0.9"/>
<line x1="360.6" y1="432.0" x2="360.6" y2="534.8" stroke="#8a8a8a" stroke-width="1.0"/>
<line x1="358.20000000000005" y1="432.4" x2="360.6" y2="432.4" stroke="#787878" stroke-width="0.7"/>
<text x="352.6" y="433.9" font-size="3.3" text-anchor="end" fill="#4a4a4a" stroke="#4a4a4a" stroke-width="0.07">100</text>
<line x1="358.20000000000005" y1="452.88" x2="360.6" y2="452.88" stroke="#787878" stroke-width="0.7"/>
<text x="352.6" y="454.38" font-size="3.3" text-anchor="end" fill="#4a4a4a" stroke="#4a4a4a" stroke-width="0.07">80</text>
<line x1="358.20000000000005" y1="473.35999999999996" x2="360.6" y2="473.35999999999996" stroke="#787878" stroke-width="0.7"/>
<text x="352.6" y="474.85999999999996" font-size="3.3" text-anchor="end" fill="#4a4a4a" stroke="#4a4a4a" stroke-width="0.07">60</text>
<line x1="358.20000000000005" y1="493.84" x2="360.6" y2="493.84" stroke="#787878" stroke-width="0.7"/>
<text x="352.6" y="495.34" font-size="3.3" text-anchor="end" fill="#4a4a4a" stroke="#4a4a4a" stroke-width="0.07">40</text>
<line x1="358.20000000000005" y1="514.3199999999999" x2="360.6" y2="514.3199999999999" stroke="#787878" stroke-width="0.7"/>
<text x="352.6" y="515.8199999999999" font-size="3.3" text-anchor="end" fill="#4a4a4a" stroke="#4a4a4a" stroke-width="0.07">20</text>
<line x1="358.20000000000005" y1="534.8" x2="360.6" y2="534.8" stroke="#787878" stroke-width="0.7"/>
<text x="352.6" y="536.3" font-size="3.3" text-anchor="end" fill="#4a4a4a" stroke="#4a4a4a" stroke-width="0.07">0</text>
<line x1="359.5" y1="432.4" x2="360.6" y2="432.4" stroke="#909090" stroke-width="0.5"/>
<line x1="359.5" y1="434.448" x2="360.6" y2="434.448" stroke="#909090" stroke-width="0.5"/>
<line x1="359.5" y1="436.496" x2="360.6" y2="436.496" stroke="#909090" stroke-width="0.5"/>
<line x1="359.5" y1="438.544" x2="360.6" y2="438.544" stroke="#909090" stroke-width="0.5"/>
<line x1="359.5" y1="440.592" x2="360.6" y2="440.592" stroke="#909090" stroke-width="0.5"/>
<line x1="359.5" y1="442.64" x2="360.6" y2="442.64" stroke="#909090" stroke-width="0.5"/>
<line x1="359.5" y1="444.688" x2="360.6" y2="444.688" stroke="#909090" stroke-width="0.5"/>
<line x1="359.5" y1="446.736" x2="360.6" y2="446.736" stroke="#909090" stroke-width="0.5"/>
<line x1="359.5" y1="448.784" x2="360.6" y2="448.784" stroke="#909090" stroke-width="0.5"/>
<line x1="359.5" y1="450.832" x2="360.6" y2="450.832" stroke="#909090" stroke-width="0.5"/>
<line x1="359.5" y1="452.88" x2="360.6" y2="452.88" stroke="#909090" stroke-width="0.5"/>
<line x1="359.5" y1="454.928" x2="360.6" y2="454.928" stroke="#909090" stroke-width="0.5"/>
<line x1="359.5" y1="456.976" x2="360.6" y2="456.976" stroke="#909090" stroke-width="0.5"/>
<line x1="359.5" y1="459.024" x2="360.6" y2="459.024" stroke="#909090" stroke-width="0.5"/>
<line x1="359.5" y1="461.07199999999995" x2="360.6" y2="461.07199999999995" stroke="#909090" stroke-width="0.5"/>
<line x1="359.5" y1="463.11999999999995" x2="360.6" y2="463.11999999999995" stroke="#909090" stroke-width="0.5"/>
<line x1="359.5" y1="465.16799999999995" x2="360.6" y2="465.16799999999995" stroke="#909090" stroke-width="0.5"/>
<line x1="359.5" y1="467.21599999999995" x2="360.6" y2="467.21599999999995" stroke="#909090" stroke-width="0.5"/>
<line x1="359.5" y1="469.26399999999995" x2="360.6" y2="469.26399999999995" stroke="#909090" stroke-width="0.5"/>
<line x1="359.5" y1="471.31199999999995" x2="360.6" y2="471.31199999999995" stroke="#909090" stroke-width="0.5"/>
<line x1="359.5" y1="473.35999999999996" x2="360.6" y2="473.35999999999996" stroke="#909090" stroke-width="0.5"/>
<line x1="359.5" y1="475.40799999999996" x2="360.6" y2="475.40799999999996" stroke="#909090" stroke-width="0.5"/>
<line x1="359.5" y1="477.45599999999996" x2="360.6" y2="477.45599999999996" stroke="#909090" stroke-width="0.5"/>
<line x1="359.5" y1="479.50399999999996" x2="360.6" y2="479.50399999999996" stroke="#909090" stroke-width="0.5"/>
<line x1="359.5" y1="481.55199999999996" x2="360.6" y2="481.55199999999996" stroke="#909090" stroke-width="0.5"/>
<line x1="359.5" y1="483.59999999999997" x2="360.6" y2="483.59999999999997" stroke="#909090" stroke-width="0.5"/>
<line x1="359.5" y1="485.64799999999997" x2="360.6" y2="485.64799999999997" stroke="#909090" stroke-width="0.5"/>
<line x1="359.5" y1="487.69599999999997" x2="360.6" y2="487.69599999999997" stroke="#909090" stroke-width="0.5"/>
<line x1="359.5" y1="489.74399999999997" x2="360.6" y2="489.74399999999997" stroke="#909090" stroke-width="0.5"/>
<line x1="359.5" y1="491.792" x2="360.6" y2="491.792" stroke="#909090" stroke-width="0.5"/>
<line x1="359.5" y1="493.84" x2="360.6" y2="493.84" stroke="#909090" stroke-width="0.5"/>
<line x1="359.5" y1="495.888" x2="360.6" y2="495.888" stroke="#909090" stroke-width="0.5"/>
<line x1="359.5" y1="497.936" x2="360.6" y2="497.936" stroke="#909090" stroke-width="0.5"/>
<line x1="359.5" y1="499.984" x2="360.6" y2="499.984" stroke="#909090" stroke-width="0.5"/>
<line x1="359.5" y1="502.032" x2="360.6" y2="502.032" stroke="#909090" stroke-width="0.5"/>
<line x1="359.5" y1="504.0799999999999" x2="360.6" y2="504.0799999999999" stroke="#909090" stroke-width="0.5"/>
<line x1="359.5" y1="506.12799999999993" x2="360.6" y2="506.12799999999993" stroke="#909090" stroke-width="0.5"/>
<line x1="359.5" y1="508.17599999999993" x2="360.6" y2="508.17599999999993" stroke="#909090" stroke-width="0.5"/>
<line x1="359.5" y1="510.22399999999993" x2="360.6" y2="510.22399999999993" stroke="#909090" stroke-width="0.5"/>
<line x1="359.5" y1="512.2719999999999" x2="360.6" y2="512.2719999999999" stroke="#909090" stroke-width="0.5"/>
<line x1="359.5" y1="514.3199999999999" x2="360.6" y2="514.3199999999999" stroke="#909090" stroke-width="0.5"/>
<line x1="359.5" y1="516.3679999999999" x2="360.6" y2="516.3679999999999" stroke="#909090" stroke-width="0.5"/>
<line x1="359.5" y1="518.4159999999999" x2="360.6" y2="518.4159999999999" stroke="#909090" stroke-width="0.5"/>
<line x1="359.5" y1="520.4639999999999" x2="360.6" y2="520.4639999999999" stroke="#909090" stroke-width="0.5"/>
<line x1="359.5" y1="522.512" x2="360.6" y2="522.512" stroke="#909090" stroke-width="0.5"/>
<line x1="359.5" y1="524.56" x2="360.6" y2="524.56" stroke="#909090" stroke-width="0.5"/>
<line x1="359.5" y1="526.608" x2="360.6" y2="526.608" stroke="#909090" stroke-width="0.5"/>
<line x1="359.5" y1="528.656" x2="360.6" y2="528.656" stroke="#909090" stroke-width="0.5"/>
<line x1="359.5" y1="530.704" x2="360.6" y2="530.704" stroke="#909090" stroke-width="0.5"/>
<line x1="359.5" y1="532.752" x2="360.6" y2="532.752" stroke="#909090" stroke-width="0.5"/>
<line x1="367.7101740952112" y1="534.8" x2="367.7101740952112" y2="536.0" stroke="#555" stroke-width="0.55"/>
<line x1="373.37474240309933" y1="534.8" x2="373.37474240309933" y2="536.0" stroke="#555" stroke-width="0.55"/>
<line x1="377.39381757817756" y1="534.8" x2="377.39381757817756" y2="536.0" stroke="#555" stroke-width="0.55"/>
<line x1="380.5112544762173" y1="534.8" x2="380.5112544762173" y2="536.0" stroke="#555" stroke-width="0.55"/>
<line x1="383.05838588606565" y1="534.8" x2="383.05838588606565" y2="536.0" stroke="#555" stroke-width="0.55"/>
<line x1="385.21195480760144" y1="534.8" x2="385.21195480760144" y2="536.0" stroke="#555" stroke-width="0.55"/>
<line x1="387.0774610611439" y1="534.8" x2="387.0774610611439" y2="536.0" stroke="#555" stroke-width="0.55"/>
<line x1="388.72295419395374" y1="534.8" x2="388.72295419395374" y2="536.0" stroke="#555" stroke-width="0.55"/>
<line x1="390.19489795918366" y1="534.8" x2="390.19489795918366" y2="537.1999999999999" stroke="#555" stroke-width="0.55"/>
<line x1="399.87854144215" y1="534.8" x2="399.87854144215" y2="536.0" stroke="#555" stroke-width="0.55"/>
<line x1="405.5431097500381" y1="534.8" x2="405.5431097500381" y2="536.0" stroke="#555" stroke-width="0.55"/>
<line x1="409.56218492511636" y1="534.8" x2="409.56218492511636" y2="536.0" stroke="#555" stroke-width="0.55"/>
<line x1="412.6796218231561" y1="534.8" x2="412.6796218231561" y2="536.0" stroke="#555" stroke-width="0.55"/>
<line x1="415.22675323300444" y1="534.8" x2="415.22675323300444" y2="536.0" stroke="#555" stroke-width="0.55"/>
<line x1="417.38032215454024" y1="534.8" x2="417.38032215454024" y2="536.0" stroke="#555" stroke-width="0.55"/>
<line x1="419.2458284080827" y1="534.8" x2="419.2458284080827" y2="536.0" stroke="#555" stroke-width="0.55"/>
<line x1="420.89132154089253" y1="534.8" x2="420.89132154089253" y2="536.0" stroke="#555" stroke-width="0.55"/>
<text x="391.1" y="543.4" font-size="3.3" text-anchor="end" fill="#4a4a4a" stroke="#4a4a4a" stroke-width="0.07">10</text>
<text x="393.6" y="540.8" font-size="2.7" text-anchor="start" fill="#4a4a4a" stroke="#4a4a4a" stroke-width="0.06">1</text>
<line x1="422.36326530612246" y1="534.8" x2="422.36326530612246" y2="537.1999999999999" stroke="#555" stroke-width="0.55"/>
<line x1="432.0469087890888" y1="534.8" x2="432.0469087890888" y2="536.0" stroke="#555" stroke-width="0.55"/>
<line x1="437.7114770969769" y1="534.8" x2="437.7114770969769" y2="536.0" stroke="#555" stroke-width="0.55"/>
<line x1="441.73055227205515" y1="534.8" x2="441.73055227205515" y2="536.0" stroke="#555" stroke-width="0.55"/>
<line x1="444.8479891700949" y1="534.8" x2="444.8479891700949" y2="536.0" stroke="#555" stroke-width="0.55"/>
<line x1="447.39512057994324" y1="534.8" x2="447.39512057994324" y2="536.0" stroke="#555" stroke-width="0.55"/>
<line x1="449.54868950147903" y1="534.8" x2="449.54868950147903" y2="536.0" stroke="#555" stroke-width="0.55"/>
<line x1="451.41419575502147" y1="534.8" x2="451.41419575502147" y2="536.0" stroke="#555" stroke-width="0.55"/>
<line x1="453.0596888878313" y1="534.8" x2="453.0596888878313" y2="536.0" stroke="#555" stroke-width="0.55"/>
<text x="423.3" y="543.4" font-size="3.3" text-anchor="end" fill="#4a4a4a" stroke="#4a4a4a" stroke-width="0.07">10</text>
<text x="425.8" y="540.8" font-size="2.7" text-anchor="start" fill="#4a4a4a" stroke="#4a4a4a" stroke-width="0.06">2</text>
<line x1="454.5316326530612" y1="534.8" x2="454.5316326530612" y2="537.1999999999999" stroke="#555" stroke-width="0.55"/>
<line x1="464.2152761360275" y1="534.8" x2="464.2152761360275" y2="536.0" stroke="#555" stroke-width="0.55"/>
<line x1="469.87984444391566" y1="534.8" x2="469.87984444391566" y2="536.0" stroke="#555" stroke-width="0.55"/>
<line x1="473.8989196189939" y1="534.8" x2="473.8989196189939" y2="536.0" stroke="#555" stroke-width="0.55"/>
<line x1="477.0163565170336" y1="534.8" x2="477.0163565170336" y2="536.0" stroke="#555" stroke-width="0.55"/>
<line x1="479.563487926882" y1="534.8" x2="479.563487926882" y2="536.0" stroke="#555" stroke-width="0.55"/>
<line x1="481.71705684841777" y1="534.8" x2="481.71705684841777" y2="536.0" stroke="#555" stroke-width="0.55"/>
<line x1="483.5825631019602" y1="534.8" x2="483.5825631019602" y2="536.0" stroke="#555" stroke-width="0.55"/>
<line x1="485.22805623477007" y1="534.8" x2="485.22805623477007" y2="536.0" stroke="#555" stroke-width="0.55"/>
<text x="455.4" y="543.4" font-size="3.3" text-anchor="end" fill="#4a4a4a" stroke="#4a4a4a" stroke-width="0.07">10</text>
<text x="457.9" y="540.8" font-size="2.7" text-anchor="start" fill="#4a4a4a" stroke="#4a4a4a" stroke-width="0.06">3</text>
<line x1="486.7" y1="534.8" x2="486.7" y2="537.1999999999999" stroke="#555" stroke-width="0.55"/>
<text x="487.6" y="543.4" font-size="3.3" text-anchor="end" fill="#4a4a4a" stroke="#4a4a4a" stroke-width="0.07">10</text>
<text x="490.1" y="540.8" font-size="2.7" text-anchor="start" fill="#4a4a4a" stroke="#4a4a4a" stroke-width="0.06">4</text>
<text x="341.3" y="485.09999999999997" font-size="4.5" text-anchor="middle" fill="#3a3a3a" stroke="#3a3a3a" stroke-width="0.1" transform="rotate(-90 341.3 485.09999999999997)">% of Max</text>
<clipPath id="cp4"><rect x="360.6" y="432.4" width="126.39999999999998" height="102.59999999999998"/></clipPath>
<g clip-path="url(#cp4)">
<path d="M360.9 531.5 L361.4 531.3 L361.9 530.6 L362.4 530.5 L362.9 530.3 L363.4 529.7 L363.9 529.8 L364.4 528.3 L364.9 528.2 L365.4 527.4 L365.9 526.8 L366.4 526.6 L366.9 526.3 L367.4 525.9 L367.9 525.4 L368.4 525.9 L368.9 524.6 L369.4 522.7 L369.9 523.2 L370.4 521.6 L370.9 520.3 L371.4 520.2 L371.9 517.9 L372.4 515.2 L372.9 515.2 L373.4 513.0 L373.9 510.6 L374.4 509.1 L374.9 507.4 L375.4 506.0 L375.9 503.6 L376.4 502.1 L376.9 501.9 L377.4 496.7 L377.9 494.3 L378.4 492.5 L378.9 491.4 L379.4 486.3 L379.9 485.6 L380.4 478.9 L380.9 476.3 L381.4 475.0 L381.9 471.3 L382.4 468.6 L382.9 466.8 L383.4 463.9 L383.9 459.9 L384.4 456.7 L384.9 456.6 L385.4 452.6 L385.9 449.1 L386.4 448.9 L386.9 443.4 L387.4 444.0 L387.9 443.6 L388.4 441.4 L388.9 440.3 L389.4 441.6 L389.9 439.8 L390.4 439.3 L390.9 438.1 L391.4 441.6 L391.9 438.0 L392.4 442.7 L392.9 443.9 L393.4 445.3 L393.9 449.2 L394.4 451.1 L394.9 454.1 L395.4 455.0 L395.9 460.7 L396.4 465.5 L396.9 468.5 L397.4 472.9 L397.9 477.4 L398.4 479.7 L398.9 485.5 L399.4 485.1 L399.9 490.5 L400.4 491.4 L400.9 498.4 L401.4 501.1 L401.9 505.8 L402.4 506.8 L402.9 508.3 L403.4 514.1 L403.9 514.9 L404.4 517.5 L404.9 520.7 L405.4 523.6 L405.9 525.4 L406.4 527.3 L406.9 527.8 L407.4 530.6 L407.9 531.2 L408.4 532.4 L408.9 532.8 L409.4 533.0 L409.9 533.4 L410.4 533.5 L410.9 534.0 L411.4 534.3 L411.9 534.5 L412.4 534.4 L412.9 534.5 L413.4 534.6 L413.9 534.7" fill="none" stroke="#8a8a8a" stroke-width="0.8" stroke-linejoin="miter"/>
<path d="M360.9 532.6 L361.4 532.4 L361.9 531.5 L362.4 531.1 L362.9 531.5 L363.4 531.6 L363.9 531.1 L364.4 530.5 L364.9 530.5 L365.4 530.7 L365.9 529.1 L366.4 529.6 L366.9 528.9 L367.4 528.3 L367.9 528.0 L368.4 526.8 L368.9 526.5 L369.4 527.0 L369.9 525.4 L370.4 524.9 L370.9 523.8 L371.4 523.7 L371.9 523.7 L372.4 523.3 L372.9 522.3 L373.4 521.2 L373.9 519.6 L374.4 517.7 L374.9 516.6 L375.4 514.0 L375.9 513.1 L376.4 510.1 L376.9 506.8 L377.4 505.0 L377.9 504.0 L378.4 501.3 L378.9 498.2 L379.4 496.3 L379.9 494.9 L380.4 492.0 L380.9 488.8 L381.4 483.1 L381.9 481.0 L382.4 478.8 L382.9 474.9 L383.4 473.9 L383.9 467.6 L384.4 464.9 L384.9 461.9 L385.4 458.3 L385.9 456.1 L386.4 453.9 L386.9 451.0 L387.4 447.8 L387.9 445.4 L388.4 444.5 L388.9 441.0 L389.4 442.6 L389.9 439.7 L390.4 440.7 L390.9 438.9 L391.4 440.2 L391.9 438.5 L392.4 437.9 L392.9 439.6 L393.4 443.6 L393.9 448.3 L394.4 445.2 L394.9 451.3 L395.4 453.4 L395.9 454.9 L396.4 456.3 L396.9 463.4 L397.4 464.3 L397.9 468.4 L398.4 469.1 L398.9 471.3 L399.4 476.3 L399.9 478.4 L400.4 479.4 L400.9 481.9 L401.4 485.3 L401.9 486.1 L402.4 488.6 L402.9 492.0 L403.4 495.3 L403.9 497.3 L404.4 498.7 L404.9 502.0 L405.4 502.6 L405.9 504.3 L406.4 508.8 L406.9 508.2 L407.4 511.1 L407.9 513.0 L408.4 514.6 L408.9 516.6 L409.4 518.9 L409.9 520.7 L410.4 521.6 L410.9 523.5 L411.4 525.9 L411.9 527.1 L412.4 527.9 L412.9 529.1 L413.4 529.7 L413.9 530.7 L414.4 532.0 L414.9 533.0 L415.4 532.7 L415.9 532.8 L416.4 533.5 L416.9 533.7 L417.4 534.2 L417.9 534.4 L418.4 534.3 L418.9 534.4 L419.4 534.4 L419.9 534.7 L420.4 534.6 L420.9 534.7 L421.4 534.8 L421.9 534.7 L422.4 534.8 L422.9 534.8" fill="none" stroke="#404040" stroke-width="0.85" stroke-linejoin="miter"/>
</g>
<line x1="360.1" y1="534.8" x2="487.4" y2="534.8" stroke="#4a4a4a" stroke-width="1.0"/>
<line x1="287" y1="552.3" x2="300.6" y2="552.3" stroke="#9a9a9a" stroke-width="2"/>
<text x="310" y="557" font-size="11.2" text-anchor="start" fill="#1a1a1a" stroke="#1a1a1a" stroke-width="0.25">Control</text>
<line x1="354" y1="552.3" x2="367.4" y2="552.3" stroke="#5a5a5a" stroke-width="2"/>
<text x="373.3" y="557" font-size="11.2" text-anchor="start" fill="#1a1a1a" stroke="#1a1a1a" stroke-width="0.25">Phagocyte</text>
</svg>
</body></html>
